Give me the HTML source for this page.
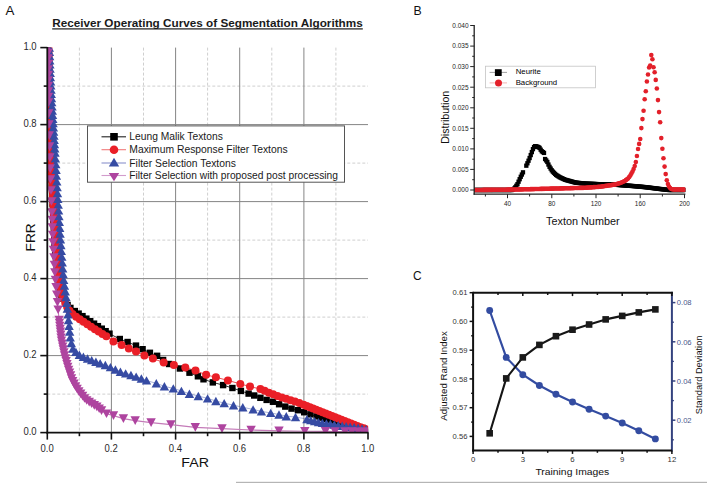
<!DOCTYPE html>
<html><head><meta charset="utf-8"><title>Segmentation figure</title>
<style>
html,body{margin:0;padding:0;background:#fff;}
body{width:707px;height:483px;overflow:hidden;}
svg{display:block;font-family:"Liberation Sans", sans-serif;}
</style></head><body>
<svg width="707" height="483" viewBox="0 0 707 483">
<rect x="0" y="0" width="707" height="483" fill="#fff"/>

<text x="5.6" y="14.9" font-size="13.3" fill="#111">A</text>
<text x="52.2" y="26.6" font-size="10.3" font-weight="bold" fill="#1a1a1a" textLength="310.5" lengthAdjust="spacingAndGlyphs">Receiver Operating Curves of Segmentation Algorithms</text>
<rect x="52.2" y="28.3" width="310.6" height="1.2" fill="#1a1a1a"/>
<line x1="79.4" y1="47.6" x2="79.4" y2="432.6" stroke="#cfcfcf" stroke-width="1" stroke-dasharray="3,2"/>
<line x1="47.3" y1="394.1" x2="368.0" y2="394.1" stroke="#cfcfcf" stroke-width="1" stroke-dasharray="3,2"/>
<line x1="143.5" y1="47.6" x2="143.5" y2="432.6" stroke="#cfcfcf" stroke-width="1" stroke-dasharray="3,2"/>
<line x1="47.3" y1="317.1" x2="368.0" y2="317.1" stroke="#cfcfcf" stroke-width="1" stroke-dasharray="3,2"/>
<line x1="207.6" y1="47.6" x2="207.6" y2="432.6" stroke="#cfcfcf" stroke-width="1" stroke-dasharray="3,2"/>
<line x1="47.3" y1="240.1" x2="368.0" y2="240.1" stroke="#cfcfcf" stroke-width="1" stroke-dasharray="3,2"/>
<line x1="271.8" y1="47.6" x2="271.8" y2="432.6" stroke="#cfcfcf" stroke-width="1" stroke-dasharray="3,2"/>
<line x1="47.3" y1="163.1" x2="368.0" y2="163.1" stroke="#cfcfcf" stroke-width="1" stroke-dasharray="3,2"/>
<line x1="335.9" y1="47.6" x2="335.9" y2="432.6" stroke="#cfcfcf" stroke-width="1" stroke-dasharray="3,2"/>
<line x1="47.3" y1="86.1" x2="368.0" y2="86.1" stroke="#cfcfcf" stroke-width="1" stroke-dasharray="3,2"/>
<line x1="111.4" y1="47.6" x2="111.4" y2="432.6" stroke="#858585" stroke-width="1"/>
<line x1="47.3" y1="355.6" x2="368.0" y2="355.6" stroke="#858585" stroke-width="1"/>
<line x1="175.6" y1="47.6" x2="175.6" y2="432.6" stroke="#858585" stroke-width="1"/>
<line x1="47.3" y1="278.6" x2="368.0" y2="278.6" stroke="#858585" stroke-width="1"/>
<line x1="239.7" y1="47.6" x2="239.7" y2="432.6" stroke="#858585" stroke-width="1"/>
<line x1="47.3" y1="201.6" x2="368.0" y2="201.6" stroke="#858585" stroke-width="1"/>
<line x1="303.9" y1="47.6" x2="303.9" y2="432.6" stroke="#858585" stroke-width="1"/>
<line x1="47.3" y1="124.6" x2="368.0" y2="124.6" stroke="#858585" stroke-width="1"/>
<defs><clipPath id="pa"><rect x="47.3" y="47.6" width="320.8" height="385"/></clipPath></defs>
<g clip-path="url(#pa)">
<polyline points="48.00,47.60 49.00,100.00 50.50,150.00 52.50,200.00 55.00,250.00 58.00,280.00 62.00,297.00 66.50,304.00 71.00,308.50 80.00,314.50 90.00,321.00 100.00,327.50 110.00,334.00 119.80,339.00 127.60,342.00 136.00,345.60 142.60,349.20 149.90,352.80 157.10,355.80 163.10,360.00 169.10,364.00 179.90,368.50 189.50,372.70 197.90,376.30 203.50,379.30 212.80,382.40 223.10,385.10 232.40,388.00 240.90,390.90 248.60,393.60 254.20,395.50 263.50,399.00 272.80,401.70 279.00,404.20 284.10,406.20 290.30,408.30 300.70,410.90 305.90,412.90 314.10,415.50 323.40,418.50 335.00,421.00 350.00,425.00 368.00,430.50" fill="none" stroke="#000" stroke-width="0.8"/>
<polyline points="48.50,47.60 49.50,100.00 51.00,150.00 53.00,200.00 55.50,240.00 58.50,275.00 62.00,295.00 66.50,306.00 71.00,313.00 80.00,319.50 90.00,326.00 100.00,332.50 110.00,338.50 113.40,341.50 121.60,345.00 128.80,348.60 136.00,351.60 144.40,355.50 152.90,358.60 163.70,362.50 173.90,365.10 185.30,367.50 195.50,370.60 206.10,374.80 215.90,377.30 227.90,380.40 240.30,383.90 250.00,386.60 260.40,389.00 270.00,393.20 282.10,397.60 300.00,403.20 320.00,411.30 340.00,419.20 360.00,427.00 370.00,430.50" fill="none" stroke="#ea1f27" stroke-width="0.8"/>
<polyline points="49.30,47.60 50.50,80.00 51.60,100.00 53.20,124.50 55.50,160.00 58.00,201.50 60.50,240.00 63.50,278.50 66.50,300.00 69.00,325.00 70.50,340.00 73.00,349.00 78.00,354.00 85.00,357.50 95.00,361.50 102.00,363.80 108.00,366.00 113.50,368.50 119.70,371.50 126.00,373.50 134.20,375.90 141.00,378.30 148.70,381.20 156.30,383.30 164.40,386.30 173.30,388.40 181.40,390.90 189.40,393.80 198.30,396.00 207.60,398.40 215.90,401.00 224.20,403.10 233.50,405.20 242.80,407.30 253.10,409.40 261.40,411.40 270.70,412.90 279.00,414.50 286.30,416.20 295.50,417.00 306.90,419.10 320.00,422.50 340.00,425.50 360.00,428.00 370.00,430.00" fill="none" stroke="#364ba3" stroke-width="0.6" stroke-opacity="0.7"/>
<polyline points="48.00,47.60 48.30,90.00 48.90,124.50 50.50,180.00 51.50,202.00 52.80,240.00 55.20,278.00 58.80,317.00 61.30,340.00 64.50,355.50 68.00,368.00 72.00,380.00 76.00,387.50 79.80,392.90 85.70,399.80 91.70,403.80 96.60,406.70 101.60,410.70 106.50,413.70 113.50,415.60 123.40,418.60 135.20,420.60 151.10,422.60 170.90,424.60 195.30,427.40 222.00,428.60 251.10,430.00 279.00,430.90 304.80,431.20 325.50,431.40 335.00,431.50 345.00,431.60 352.00,431.60 358.00,431.70 363.00,431.70 367.50,431.80" fill="none" stroke="#c47ab8" stroke-width="1.1"/>
<rect x="44.80" y="44.40" width="6.4" height="6.4" fill="#000"/>
<rect x="44.88" y="48.40" width="6.4" height="6.4" fill="#000"/>
<rect x="44.95" y="52.40" width="6.4" height="6.4" fill="#000"/>
<rect x="45.03" y="56.40" width="6.4" height="6.4" fill="#000"/>
<rect x="45.11" y="60.40" width="6.4" height="6.4" fill="#000"/>
<rect x="45.18" y="64.40" width="6.4" height="6.4" fill="#000"/>
<rect x="45.26" y="68.40" width="6.4" height="6.4" fill="#000"/>
<rect x="45.33" y="72.39" width="6.4" height="6.4" fill="#000"/>
<rect x="45.41" y="76.39" width="6.4" height="6.4" fill="#000"/>
<rect x="45.49" y="80.39" width="6.4" height="6.4" fill="#000"/>
<rect x="45.56" y="84.39" width="6.4" height="6.4" fill="#000"/>
<rect x="45.64" y="88.39" width="6.4" height="6.4" fill="#000"/>
<rect x="45.72" y="92.39" width="6.4" height="6.4" fill="#000"/>
<rect x="45.79" y="96.39" width="6.4" height="6.4" fill="#000"/>
<rect x="45.91" y="100.39" width="6.4" height="6.4" fill="#000"/>
<rect x="46.03" y="104.39" width="6.4" height="6.4" fill="#000"/>
<rect x="46.15" y="108.39" width="6.4" height="6.4" fill="#000"/>
<rect x="46.27" y="112.38" width="6.4" height="6.4" fill="#000"/>
<rect x="46.39" y="116.38" width="6.4" height="6.4" fill="#000"/>
<rect x="46.51" y="120.38" width="6.4" height="6.4" fill="#000"/>
<rect x="46.63" y="124.38" width="6.4" height="6.4" fill="#000"/>
<rect x="46.75" y="128.38" width="6.4" height="6.4" fill="#000"/>
<rect x="46.87" y="132.37" width="6.4" height="6.4" fill="#000"/>
<rect x="46.99" y="136.37" width="6.4" height="6.4" fill="#000"/>
<rect x="47.11" y="140.37" width="6.4" height="6.4" fill="#000"/>
<rect x="47.23" y="144.37" width="6.4" height="6.4" fill="#000"/>
<rect x="47.36" y="148.37" width="6.4" height="6.4" fill="#000"/>
<rect x="47.52" y="152.36" width="6.4" height="6.4" fill="#000"/>
<rect x="47.68" y="156.36" width="6.4" height="6.4" fill="#000"/>
<rect x="47.84" y="160.36" width="6.4" height="6.4" fill="#000"/>
<rect x="48.00" y="164.35" width="6.4" height="6.4" fill="#000"/>
<rect x="48.16" y="168.35" width="6.4" height="6.4" fill="#000"/>
<rect x="48.32" y="172.35" width="6.4" height="6.4" fill="#000"/>
<rect x="48.48" y="176.34" width="6.4" height="6.4" fill="#000"/>
<rect x="48.64" y="180.34" width="6.4" height="6.4" fill="#000"/>
<rect x="48.80" y="184.34" width="6.4" height="6.4" fill="#000"/>
<rect x="48.96" y="188.33" width="6.4" height="6.4" fill="#000"/>
<rect x="49.12" y="192.33" width="6.4" height="6.4" fill="#000"/>
<rect x="49.28" y="196.33" width="6.4" height="6.4" fill="#000"/>
<rect x="49.48" y="200.32" width="6.4" height="6.4" fill="#000"/>
<rect x="49.68" y="204.32" width="6.4" height="6.4" fill="#000"/>
<rect x="49.88" y="208.31" width="6.4" height="6.4" fill="#000"/>
<rect x="50.08" y="212.31" width="6.4" height="6.4" fill="#000"/>
<rect x="50.28" y="216.30" width="6.4" height="6.4" fill="#000"/>
<rect x="50.47" y="220.30" width="6.4" height="6.4" fill="#000"/>
<rect x="50.67" y="224.29" width="6.4" height="6.4" fill="#000"/>
<rect x="50.87" y="228.29" width="6.4" height="6.4" fill="#000"/>
<rect x="51.07" y="232.28" width="6.4" height="6.4" fill="#000"/>
<rect x="51.27" y="236.28" width="6.4" height="6.4" fill="#000"/>
<rect x="51.47" y="240.27" width="6.4" height="6.4" fill="#000"/>
<rect x="51.67" y="244.27" width="6.4" height="6.4" fill="#000"/>
<rect x="51.95" y="248.26" width="6.4" height="6.4" fill="#000"/>
<rect x="52.34" y="252.24" width="6.4" height="6.4" fill="#000"/>
<rect x="52.74" y="256.22" width="6.4" height="6.4" fill="#000"/>
<rect x="53.14" y="260.20" width="6.4" height="6.4" fill="#000"/>
<rect x="53.54" y="264.18" width="6.4" height="6.4" fill="#000"/>
<rect x="53.94" y="268.16" width="6.4" height="6.4" fill="#000"/>
<rect x="54.33" y="272.14" width="6.4" height="6.4" fill="#000"/>
<rect x="54.73" y="276.12" width="6.4" height="6.4" fill="#000"/>
<rect x="55.56" y="280.03" width="6.4" height="6.4" fill="#000"/>
<rect x="56.48" y="283.92" width="6.4" height="6.4" fill="#000"/>
<rect x="57.39" y="287.82" width="6.4" height="6.4" fill="#000"/>
<rect x="58.31" y="291.71" width="6.4" height="6.4" fill="#000"/>
<rect x="59.80" y="295.36" width="6.4" height="6.4" fill="#000"/>
<rect x="61.96" y="298.72" width="6.4" height="6.4" fill="#000"/>
<rect x="64.38" y="301.88" width="6.4" height="6.4" fill="#000"/>
<rect x="67.21" y="304.71" width="6.4" height="6.4" fill="#000"/>
<rect x="71.63" y="307.85" width="6.4" height="6.4" fill="#000"/>
<rect x="75.45" y="310.40" width="6.4" height="6.4" fill="#000"/>
<rect x="79.30" y="312.93" width="6.4" height="6.4" fill="#000"/>
<rect x="83.16" y="315.43" width="6.4" height="6.4" fill="#000"/>
<rect x="87.02" y="317.94" width="6.4" height="6.4" fill="#000"/>
<rect x="90.87" y="320.45" width="6.4" height="6.4" fill="#000"/>
<rect x="94.73" y="322.95" width="6.4" height="6.4" fill="#000"/>
<rect x="98.59" y="325.46" width="6.4" height="6.4" fill="#000"/>
<rect x="102.44" y="327.97" width="6.4" height="6.4" fill="#000"/>
<rect x="106.30" y="330.47" width="6.4" height="6.4" fill="#000"/>
<rect x="116.60" y="335.80" width="6.4" height="6.4" fill="#000"/>
<rect x="124.40" y="338.80" width="6.4" height="6.4" fill="#000"/>
<rect x="132.80" y="342.40" width="6.4" height="6.4" fill="#000"/>
<rect x="139.40" y="346.00" width="6.4" height="6.4" fill="#000"/>
<rect x="146.70" y="349.60" width="6.4" height="6.4" fill="#000"/>
<rect x="153.90" y="352.60" width="6.4" height="6.4" fill="#000"/>
<rect x="159.90" y="356.80" width="6.4" height="6.4" fill="#000"/>
<rect x="165.90" y="360.80" width="6.4" height="6.4" fill="#000"/>
<rect x="176.70" y="365.30" width="6.4" height="6.4" fill="#000"/>
<rect x="186.30" y="369.50" width="6.4" height="6.4" fill="#000"/>
<rect x="194.70" y="373.10" width="6.4" height="6.4" fill="#000"/>
<rect x="200.30" y="376.10" width="6.4" height="6.4" fill="#000"/>
<rect x="209.60" y="379.20" width="6.4" height="6.4" fill="#000"/>
<rect x="219.90" y="381.90" width="6.4" height="6.4" fill="#000"/>
<rect x="229.20" y="384.80" width="6.4" height="6.4" fill="#000"/>
<rect x="237.70" y="387.70" width="6.4" height="6.4" fill="#000"/>
<rect x="245.40" y="390.40" width="6.4" height="6.4" fill="#000"/>
<rect x="251.00" y="392.30" width="6.4" height="6.4" fill="#000"/>
<rect x="257.18" y="394.62" width="6.4" height="6.4" fill="#000"/>
<rect x="263.43" y="396.71" width="6.4" height="6.4" fill="#000"/>
<rect x="269.77" y="398.57" width="6.4" height="6.4" fill="#000"/>
<rect x="275.89" y="401.03" width="6.4" height="6.4" fill="#000"/>
<rect x="282.05" y="403.39" width="6.4" height="6.4" fill="#000"/>
<rect x="288.33" y="405.41" width="6.4" height="6.4" fill="#000"/>
<rect x="294.74" y="407.01" width="6.4" height="6.4" fill="#000"/>
<rect x="301.00" y="409.05" width="6.4" height="6.4" fill="#000"/>
<rect x="307.26" y="411.14" width="6.4" height="6.4" fill="#000"/>
<rect x="313.54" y="413.15" width="6.4" height="6.4" fill="#000"/>
<rect x="317.54" y="414.44" width="6.4" height="6.4" fill="#000"/>
<rect x="321.57" y="415.60" width="6.4" height="6.4" fill="#000"/>
<rect x="325.68" y="416.48" width="6.4" height="6.4" fill="#000"/>
<rect x="329.78" y="417.37" width="6.4" height="6.4" fill="#000"/>
<rect x="333.87" y="418.35" width="6.4" height="6.4" fill="#000"/>
<rect x="337.92" y="419.43" width="6.4" height="6.4" fill="#000"/>
<rect x="341.98" y="420.52" width="6.4" height="6.4" fill="#000"/>
<rect x="346.04" y="421.60" width="6.4" height="6.4" fill="#000"/>
<rect x="350.06" y="422.80" width="6.4" height="6.4" fill="#000"/>
<rect x="354.08" y="424.02" width="6.4" height="6.4" fill="#000"/>
<rect x="358.10" y="425.25" width="6.4" height="6.4" fill="#000"/>
<rect x="362.11" y="426.48" width="6.4" height="6.4" fill="#000"/>
<circle cx="48.50" cy="47.60" r="4.0" fill="#ea1f27"/>
<circle cx="48.59" cy="52.10" r="4.0" fill="#ea1f27"/>
<circle cx="48.67" cy="56.60" r="4.0" fill="#ea1f27"/>
<circle cx="48.76" cy="61.10" r="4.0" fill="#ea1f27"/>
<circle cx="48.84" cy="65.60" r="4.0" fill="#ea1f27"/>
<circle cx="48.93" cy="70.10" r="4.0" fill="#ea1f27"/>
<circle cx="49.02" cy="74.60" r="4.0" fill="#ea1f27"/>
<circle cx="49.10" cy="79.09" r="4.0" fill="#ea1f27"/>
<circle cx="49.19" cy="83.59" r="4.0" fill="#ea1f27"/>
<circle cx="49.27" cy="88.09" r="4.0" fill="#ea1f27"/>
<circle cx="49.36" cy="92.59" r="4.0" fill="#ea1f27"/>
<circle cx="49.44" cy="97.09" r="4.0" fill="#ea1f27"/>
<circle cx="49.55" cy="101.59" r="4.0" fill="#ea1f27"/>
<circle cx="49.68" cy="106.09" r="4.0" fill="#ea1f27"/>
<circle cx="49.82" cy="110.59" r="4.0" fill="#ea1f27"/>
<circle cx="49.95" cy="115.08" r="4.0" fill="#ea1f27"/>
<circle cx="50.09" cy="119.58" r="4.0" fill="#ea1f27"/>
<circle cx="50.22" cy="124.08" r="4.0" fill="#ea1f27"/>
<circle cx="50.36" cy="128.58" r="4.0" fill="#ea1f27"/>
<circle cx="50.49" cy="133.08" r="4.0" fill="#ea1f27"/>
<circle cx="50.63" cy="137.57" r="4.0" fill="#ea1f27"/>
<circle cx="50.76" cy="142.07" r="4.0" fill="#ea1f27"/>
<circle cx="50.90" cy="146.57" r="4.0" fill="#ea1f27"/>
<circle cx="51.04" cy="151.07" r="4.0" fill="#ea1f27"/>
<circle cx="51.22" cy="155.56" r="4.0" fill="#ea1f27"/>
<circle cx="51.40" cy="160.06" r="4.0" fill="#ea1f27"/>
<circle cx="51.58" cy="164.56" r="4.0" fill="#ea1f27"/>
<circle cx="51.76" cy="169.05" r="4.0" fill="#ea1f27"/>
<circle cx="51.94" cy="173.55" r="4.0" fill="#ea1f27"/>
<circle cx="52.12" cy="178.05" r="4.0" fill="#ea1f27"/>
<circle cx="52.30" cy="182.54" r="4.0" fill="#ea1f27"/>
<circle cx="52.48" cy="187.04" r="4.0" fill="#ea1f27"/>
<circle cx="52.66" cy="191.53" r="4.0" fill="#ea1f27"/>
<circle cx="52.84" cy="196.03" r="4.0" fill="#ea1f27"/>
<circle cx="53.03" cy="200.53" r="4.0" fill="#ea1f27"/>
<circle cx="53.31" cy="205.02" r="4.0" fill="#ea1f27"/>
<circle cx="53.59" cy="209.51" r="4.0" fill="#ea1f27"/>
<circle cx="53.88" cy="214.00" r="4.0" fill="#ea1f27"/>
<circle cx="54.16" cy="218.49" r="4.0" fill="#ea1f27"/>
<circle cx="54.44" cy="222.98" r="4.0" fill="#ea1f27"/>
<circle cx="54.72" cy="227.47" r="4.0" fill="#ea1f27"/>
<circle cx="55.00" cy="231.97" r="4.0" fill="#ea1f27"/>
<circle cx="55.28" cy="236.46" r="4.0" fill="#ea1f27"/>
<circle cx="55.58" cy="240.95" r="4.0" fill="#ea1f27"/>
<circle cx="55.97" cy="245.43" r="4.0" fill="#ea1f27"/>
<circle cx="56.35" cy="249.91" r="4.0" fill="#ea1f27"/>
<circle cx="56.73" cy="254.40" r="4.0" fill="#ea1f27"/>
<circle cx="57.12" cy="258.88" r="4.0" fill="#ea1f27"/>
<circle cx="57.50" cy="263.36" r="4.0" fill="#ea1f27"/>
<circle cx="57.89" cy="267.85" r="4.0" fill="#ea1f27"/>
<circle cx="58.27" cy="272.33" r="4.0" fill="#ea1f27"/>
<circle cx="58.81" cy="276.79" r="4.0" fill="#ea1f27"/>
<circle cx="59.59" cy="281.23" r="4.0" fill="#ea1f27"/>
<circle cx="60.37" cy="285.66" r="4.0" fill="#ea1f27"/>
<circle cx="61.14" cy="290.09" r="4.0" fill="#ea1f27"/>
<circle cx="61.92" cy="294.52" r="4.0" fill="#ea1f27"/>
<circle cx="63.52" cy="298.72" r="4.0" fill="#ea1f27"/>
<circle cx="65.23" cy="302.88" r="4.0" fill="#ea1f27"/>
<circle cx="67.11" cy="306.95" r="4.0" fill="#ea1f27"/>
<circle cx="69.55" cy="310.74" r="4.0" fill="#ea1f27"/>
<circle cx="72.47" cy="314.06" r="4.0" fill="#ea1f27"/>
<circle cx="76.12" cy="316.70" r="4.0" fill="#ea1f27"/>
<circle cx="79.76" cy="319.33" r="4.0" fill="#ea1f27"/>
<circle cx="83.53" cy="321.79" r="4.0" fill="#ea1f27"/>
<circle cx="87.30" cy="324.25" r="4.0" fill="#ea1f27"/>
<circle cx="91.08" cy="326.70" r="4.0" fill="#ea1f27"/>
<circle cx="94.85" cy="329.15" r="4.0" fill="#ea1f27"/>
<circle cx="98.62" cy="331.60" r="4.0" fill="#ea1f27"/>
<circle cx="102.45" cy="333.97" r="4.0" fill="#ea1f27"/>
<circle cx="106.31" cy="336.28" r="4.0" fill="#ea1f27"/>
<circle cx="113.40" cy="341.50" r="4.0" fill="#ea1f27"/>
<circle cx="121.60" cy="345.00" r="4.0" fill="#ea1f27"/>
<circle cx="128.80" cy="348.60" r="4.0" fill="#ea1f27"/>
<circle cx="136.00" cy="351.60" r="4.0" fill="#ea1f27"/>
<circle cx="144.40" cy="355.50" r="4.0" fill="#ea1f27"/>
<circle cx="152.90" cy="358.60" r="4.0" fill="#ea1f27"/>
<circle cx="163.70" cy="362.50" r="4.0" fill="#ea1f27"/>
<circle cx="173.90" cy="365.10" r="4.0" fill="#ea1f27"/>
<circle cx="185.30" cy="367.50" r="4.0" fill="#ea1f27"/>
<circle cx="195.50" cy="370.60" r="4.0" fill="#ea1f27"/>
<circle cx="206.10" cy="374.80" r="4.0" fill="#ea1f27"/>
<circle cx="215.90" cy="377.30" r="4.0" fill="#ea1f27"/>
<circle cx="227.90" cy="380.40" r="4.0" fill="#ea1f27"/>
<circle cx="240.30" cy="383.90" r="4.0" fill="#ea1f27"/>
<circle cx="250.00" cy="386.60" r="4.0" fill="#ea1f27"/>
<circle cx="260.40" cy="389.00" r="4.0" fill="#ea1f27"/>
<circle cx="264.61" cy="390.84" r="4.0" fill="#ea1f27"/>
<circle cx="268.83" cy="392.69" r="4.0" fill="#ea1f27"/>
<circle cx="273.12" cy="394.34" r="4.0" fill="#ea1f27"/>
<circle cx="277.44" cy="395.91" r="4.0" fill="#ea1f27"/>
<circle cx="281.77" cy="397.48" r="4.0" fill="#ea1f27"/>
<circle cx="286.15" cy="398.87" r="4.0" fill="#ea1f27"/>
<circle cx="290.54" cy="400.24" r="4.0" fill="#ea1f27"/>
<circle cx="294.93" cy="401.61" r="4.0" fill="#ea1f27"/>
<circle cx="299.32" cy="402.99" r="4.0" fill="#ea1f27"/>
<circle cx="303.61" cy="404.66" r="4.0" fill="#ea1f27"/>
<circle cx="306.76" cy="405.94" r="4.0" fill="#ea1f27"/>
<circle cx="309.91" cy="407.21" r="4.0" fill="#ea1f27"/>
<circle cx="313.06" cy="408.49" r="4.0" fill="#ea1f27"/>
<circle cx="316.21" cy="409.77" r="4.0" fill="#ea1f27"/>
<circle cx="319.36" cy="411.04" r="4.0" fill="#ea1f27"/>
<circle cx="322.52" cy="412.30" r="4.0" fill="#ea1f27"/>
<circle cx="325.69" cy="413.55" r="4.0" fill="#ea1f27"/>
<circle cx="328.85" cy="414.79" r="4.0" fill="#ea1f27"/>
<circle cx="332.01" cy="416.04" r="4.0" fill="#ea1f27"/>
<circle cx="335.17" cy="417.29" r="4.0" fill="#ea1f27"/>
<circle cx="338.33" cy="418.54" r="4.0" fill="#ea1f27"/>
<circle cx="341.50" cy="419.78" r="4.0" fill="#ea1f27"/>
<circle cx="344.67" cy="421.02" r="4.0" fill="#ea1f27"/>
<circle cx="347.83" cy="422.26" r="4.0" fill="#ea1f27"/>
<circle cx="351.00" cy="423.49" r="4.0" fill="#ea1f27"/>
<circle cx="354.17" cy="424.73" r="4.0" fill="#ea1f27"/>
<circle cx="357.34" cy="425.96" r="4.0" fill="#ea1f27"/>
<circle cx="360.51" cy="427.18" r="4.0" fill="#ea1f27"/>
<circle cx="363.72" cy="428.30" r="4.0" fill="#ea1f27"/>
<circle cx="366.93" cy="429.43" r="4.0" fill="#ea1f27"/>
<path d="M44.60,51.80L54.00,51.80L49.30,43.40Z" fill="#364ba3"/>
<path d="M44.76,56.00L54.16,56.00L49.46,47.60Z" fill="#364ba3"/>
<path d="M44.91,60.19L54.31,60.19L49.61,51.79Z" fill="#364ba3"/>
<path d="M45.07,64.39L54.47,64.39L49.77,55.99Z" fill="#364ba3"/>
<path d="M45.22,68.59L54.62,68.59L49.92,60.19Z" fill="#364ba3"/>
<path d="M45.38,72.79L54.78,72.79L50.08,64.39Z" fill="#364ba3"/>
<path d="M45.53,76.98L54.93,76.98L50.23,68.58Z" fill="#364ba3"/>
<path d="M45.69,81.18L55.09,81.18L50.39,72.78Z" fill="#364ba3"/>
<path d="M45.86,85.38L55.26,85.38L50.56,76.98Z" fill="#364ba3"/>
<path d="M46.10,89.57L55.50,89.57L50.80,81.17Z" fill="#364ba3"/>
<path d="M46.33,93.76L55.73,93.76L51.03,85.36Z" fill="#364ba3"/>
<path d="M46.56,97.96L55.96,97.96L51.26,89.56Z" fill="#364ba3"/>
<path d="M46.79,102.15L56.19,102.15L51.49,93.75Z" fill="#364ba3"/>
<path d="M47.04,106.34L56.44,106.34L51.74,97.94Z" fill="#364ba3"/>
<path d="M47.31,110.53L56.71,110.53L52.01,102.13Z" fill="#364ba3"/>
<path d="M47.59,114.73L56.99,114.73L52.29,106.33Z" fill="#364ba3"/>
<path d="M47.86,118.92L57.26,118.92L52.56,110.52Z" fill="#364ba3"/>
<path d="M48.13,123.11L57.53,123.11L52.83,114.71Z" fill="#364ba3"/>
<path d="M48.41,127.30L57.81,127.30L53.11,118.90Z" fill="#364ba3"/>
<path d="M48.68,131.49L58.08,131.49L53.38,123.09Z" fill="#364ba3"/>
<path d="M48.95,135.68L58.35,135.68L53.65,127.28Z" fill="#364ba3"/>
<path d="M49.22,139.87L58.62,139.87L53.92,131.47Z" fill="#364ba3"/>
<path d="M49.50,144.06L58.90,144.06L54.20,135.66Z" fill="#364ba3"/>
<path d="M49.77,148.25L59.17,148.25L54.47,139.85Z" fill="#364ba3"/>
<path d="M50.04,152.45L59.44,152.45L54.74,144.05Z" fill="#364ba3"/>
<path d="M50.31,156.64L59.71,156.64L55.01,148.24Z" fill="#364ba3"/>
<path d="M50.68,162.42L60.08,162.42L55.38,154.02Z" fill="#364ba3"/>
<path d="M51.04,168.21L60.44,168.21L55.74,159.81Z" fill="#364ba3"/>
<path d="M51.39,174.00L60.79,174.00L56.09,165.60Z" fill="#364ba3"/>
<path d="M51.74,179.79L61.14,179.79L56.44,171.39Z" fill="#364ba3"/>
<path d="M52.09,185.58L61.49,185.58L56.79,177.18Z" fill="#364ba3"/>
<path d="M52.44,191.37L61.84,191.37L57.14,182.97Z" fill="#364ba3"/>
<path d="M52.79,197.16L62.19,197.16L57.49,188.76Z" fill="#364ba3"/>
<path d="M53.13,202.95L62.53,202.95L57.83,194.55Z" fill="#364ba3"/>
<path d="M53.50,208.74L62.90,208.74L58.20,200.34Z" fill="#364ba3"/>
<path d="M53.87,214.53L63.27,214.53L58.57,206.13Z" fill="#364ba3"/>
<path d="M54.25,220.31L63.65,220.31L58.95,211.91Z" fill="#364ba3"/>
<path d="M54.62,226.10L64.02,226.10L59.32,217.70Z" fill="#364ba3"/>
<path d="M55.00,231.89L64.40,231.89L59.70,223.49Z" fill="#364ba3"/>
<path d="M55.38,237.68L64.78,237.68L60.08,229.28Z" fill="#364ba3"/>
<path d="M55.75,243.47L65.15,243.47L60.45,235.07Z" fill="#364ba3"/>
<path d="M56.19,249.25L65.59,249.25L60.89,240.85Z" fill="#364ba3"/>
<path d="M56.64,255.03L66.04,255.03L61.34,246.63Z" fill="#364ba3"/>
<path d="M57.09,260.81L66.49,260.81L61.79,252.41Z" fill="#364ba3"/>
<path d="M57.55,266.60L66.95,266.60L62.25,258.20Z" fill="#364ba3"/>
<path d="M58.00,272.38L67.40,272.38L62.70,263.98Z" fill="#364ba3"/>
<path d="M58.45,278.16L67.85,278.16L63.15,269.76Z" fill="#364ba3"/>
<path d="M58.97,283.94L68.37,283.94L63.67,275.54Z" fill="#364ba3"/>
<path d="M59.77,289.68L69.17,289.68L64.47,281.28Z" fill="#364ba3"/>
<path d="M60.58,295.42L69.98,295.42L65.28,287.02Z" fill="#364ba3"/>
<path d="M61.38,301.17L70.78,301.17L66.08,292.77Z" fill="#364ba3"/>
<path d="M62.07,306.93L71.47,306.93L66.77,298.53Z" fill="#364ba3"/>
<path d="M62.65,312.70L72.05,312.70L67.35,304.30Z" fill="#364ba3"/>
<path d="M63.23,318.47L72.63,318.47L67.93,310.07Z" fill="#364ba3"/>
<path d="M63.80,324.24L73.20,324.24L68.50,315.84Z" fill="#364ba3"/>
<path d="M64.38,330.01L73.78,330.01L69.08,321.61Z" fill="#364ba3"/>
<path d="M64.96,335.78L74.36,335.78L69.66,327.38Z" fill="#364ba3"/>
<path d="M65.54,341.55L74.94,341.55L70.24,333.15Z" fill="#364ba3"/>
<path d="M66.64,347.23L76.04,347.23L71.34,338.83Z" fill="#364ba3"/>
<path d="M68.19,352.81L77.59,352.81L72.89,344.41Z" fill="#364ba3"/>
<path d="M71.20,356.10L80.60,356.10L75.90,347.70Z" fill="#364ba3"/>
<path d="M74.67,358.88L84.07,358.88L79.37,350.48Z" fill="#364ba3"/>
<path d="M78.69,360.90L88.09,360.90L83.39,352.50Z" fill="#364ba3"/>
<path d="M82.81,362.70L92.21,362.70L87.51,354.30Z" fill="#364ba3"/>
<path d="M86.99,364.37L96.39,364.37L91.69,355.97Z" fill="#364ba3"/>
<path d="M91.19,365.99L100.59,365.99L95.89,357.59Z" fill="#364ba3"/>
<path d="M95.46,367.40L104.86,367.40L100.16,359.00Z" fill="#364ba3"/>
<path d="M100.65,369.23L110.05,369.23L105.35,360.83Z" fill="#364ba3"/>
<path d="M105.73,371.31L115.13,371.31L110.43,362.91Z" fill="#364ba3"/>
<path d="M110.72,373.63L120.12,373.63L115.42,365.23Z" fill="#364ba3"/>
<path d="M115.71,375.93L125.11,375.93L120.41,367.53Z" fill="#364ba3"/>
<path d="M120.95,377.59L130.35,377.59L125.65,369.19Z" fill="#364ba3"/>
<path d="M126.23,379.14L135.63,379.14L130.93,370.74Z" fill="#364ba3"/>
<path d="M131.47,380.80L140.87,380.80L136.17,372.40Z" fill="#364ba3"/>
<path d="M136.65,382.63L146.05,382.63L141.35,374.23Z" fill="#364ba3"/>
<path d="M141.80,384.57L151.20,384.57L146.50,376.17Z" fill="#364ba3"/>
<path d="M151.60,387.50L161.00,387.50L156.30,379.10Z" fill="#364ba3"/>
<path d="M159.70,390.50L169.10,390.50L164.40,382.10Z" fill="#364ba3"/>
<path d="M168.60,392.60L178.00,392.60L173.30,384.20Z" fill="#364ba3"/>
<path d="M176.70,395.10L186.10,395.10L181.40,386.70Z" fill="#364ba3"/>
<path d="M184.70,398.00L194.10,398.00L189.40,389.60Z" fill="#364ba3"/>
<path d="M193.60,400.20L203.00,400.20L198.30,391.80Z" fill="#364ba3"/>
<path d="M202.90,402.60L212.30,402.60L207.60,394.20Z" fill="#364ba3"/>
<path d="M211.20,405.20L220.60,405.20L215.90,396.80Z" fill="#364ba3"/>
<path d="M219.50,407.30L228.90,407.30L224.20,398.90Z" fill="#364ba3"/>
<path d="M228.80,409.40L238.20,409.40L233.50,401.00Z" fill="#364ba3"/>
<path d="M238.10,411.50L247.50,411.50L242.80,403.10Z" fill="#364ba3"/>
<path d="M248.40,413.60L257.80,413.60L253.10,405.20Z" fill="#364ba3"/>
<path d="M256.70,415.60L266.10,415.60L261.40,407.20Z" fill="#364ba3"/>
<path d="M266.00,417.10L275.40,417.10L270.70,408.70Z" fill="#364ba3"/>
<path d="M274.30,418.70L283.70,418.70L279.00,410.30Z" fill="#364ba3"/>
<path d="M281.60,420.40L291.00,420.40L286.30,412.00Z" fill="#364ba3"/>
<path d="M290.80,421.20L300.20,421.20L295.50,412.80Z" fill="#364ba3"/>
<path d="M302.20,423.30L311.60,423.30L306.90,414.90Z" fill="#364ba3"/>
<path d="M306.07,424.30L315.47,424.30L310.77,415.90Z" fill="#364ba3"/>
<path d="M309.94,425.31L319.34,425.31L314.64,416.91Z" fill="#364ba3"/>
<path d="M313.82,426.31L323.22,426.31L318.52,417.91Z" fill="#364ba3"/>
<path d="M317.74,427.07L327.14,427.07L322.44,418.67Z" fill="#364ba3"/>
<path d="M321.69,427.66L331.09,427.66L326.39,419.26Z" fill="#364ba3"/>
<path d="M325.65,428.25L335.05,428.25L330.35,419.85Z" fill="#364ba3"/>
<path d="M329.61,428.85L339.01,428.85L334.31,420.45Z" fill="#364ba3"/>
<path d="M333.56,429.44L342.96,429.44L338.26,421.04Z" fill="#364ba3"/>
<path d="M337.52,429.98L346.92,429.98L342.22,421.58Z" fill="#364ba3"/>
<path d="M341.49,430.47L350.89,430.47L346.19,422.07Z" fill="#364ba3"/>
<path d="M345.46,430.97L354.86,430.97L350.16,422.57Z" fill="#364ba3"/>
<path d="M349.43,431.47L358.83,431.47L354.13,423.07Z" fill="#364ba3"/>
<path d="M353.40,431.96L362.80,431.96L358.10,423.56Z" fill="#364ba3"/>
<path d="M357.35,432.61L366.75,432.61L362.05,424.21Z" fill="#364ba3"/>
<path d="M361.27,433.39L370.67,433.39L365.97,424.99Z" fill="#364ba3"/>
<path d="M365.19,434.18L374.59,434.18L369.89,425.78Z" fill="#364ba3"/>
<path d="M43.30,43.30L52.70,43.30L48.00,51.90Z" fill="#ae449f"/>
<path d="M43.34,48.80L52.74,48.80L48.04,57.40Z" fill="#ae449f"/>
<path d="M43.38,54.30L52.78,54.30L48.08,62.90Z" fill="#ae449f"/>
<path d="M43.42,59.80L52.82,59.80L48.12,68.40Z" fill="#ae449f"/>
<path d="M43.46,65.30L52.86,65.30L48.16,73.90Z" fill="#ae449f"/>
<path d="M43.49,70.80L52.89,70.80L48.19,79.40Z" fill="#ae449f"/>
<path d="M43.53,76.30L52.93,76.30L48.23,84.90Z" fill="#ae449f"/>
<path d="M43.57,81.80L52.97,81.80L48.27,90.40Z" fill="#ae449f"/>
<path d="M43.63,87.30L53.03,87.30L48.33,95.90Z" fill="#ae449f"/>
<path d="M43.72,92.80L53.12,92.80L48.42,101.40Z" fill="#ae449f"/>
<path d="M43.82,98.30L53.22,98.30L48.52,106.90Z" fill="#ae449f"/>
<path d="M44.01,109.30L53.41,109.30L48.71,117.90Z" fill="#ae449f"/>
<path d="M44.20,120.29L53.60,120.29L48.90,128.89Z" fill="#ae449f"/>
<path d="M44.52,131.29L53.92,131.29L49.22,139.89Z" fill="#ae449f"/>
<path d="M44.84,142.28L54.24,142.28L49.54,150.88Z" fill="#ae449f"/>
<path d="M45.15,153.28L54.55,153.28L49.85,161.88Z" fill="#ae449f"/>
<path d="M45.47,164.28L54.87,164.28L50.17,172.88Z" fill="#ae449f"/>
<path d="M45.79,175.27L55.19,175.27L50.49,183.87Z" fill="#ae449f"/>
<path d="M46.28,186.26L55.68,186.26L50.98,194.86Z" fill="#ae449f"/>
<path d="M46.78,197.25L56.18,197.25L51.48,205.85Z" fill="#ae449f"/>
<path d="M47.16,208.24L56.56,208.24L51.86,216.84Z" fill="#ae449f"/>
<path d="M47.42,215.74L56.82,215.74L52.12,224.34Z" fill="#ae449f"/>
<path d="M47.67,223.23L57.07,223.23L52.37,231.83Z" fill="#ae449f"/>
<path d="M47.93,230.73L57.33,230.73L52.63,239.33Z" fill="#ae449f"/>
<path d="M48.26,238.22L57.66,238.22L52.96,246.82Z" fill="#ae449f"/>
<path d="M48.73,245.71L58.13,245.71L53.43,254.31Z" fill="#ae449f"/>
<path d="M49.20,253.19L58.60,253.19L53.90,261.79Z" fill="#ae449f"/>
<path d="M49.68,260.68L59.08,260.68L54.38,269.28Z" fill="#ae449f"/>
<path d="M50.15,268.16L59.55,268.16L54.85,276.76Z" fill="#ae449f"/>
<path d="M50.68,275.64L60.08,275.64L55.38,284.24Z" fill="#ae449f"/>
<path d="M51.37,283.11L60.77,283.11L56.07,291.71Z" fill="#ae449f"/>
<path d="M52.06,290.58L61.46,290.58L56.76,299.18Z" fill="#ae449f"/>
<path d="M52.75,298.05L62.15,298.05L57.45,306.65Z" fill="#ae449f"/>
<path d="M53.44,305.51L62.84,305.51L58.14,314.11Z" fill="#ae449f"/>
<path d="M54.42,315.68L63.82,315.68L59.12,324.28Z" fill="#ae449f"/>
<path d="M54.75,318.66L64.15,318.66L59.45,327.26Z" fill="#ae449f"/>
<path d="M55.07,321.65L64.47,321.65L59.77,330.25Z" fill="#ae449f"/>
<path d="M55.40,324.63L64.80,324.63L60.10,333.23Z" fill="#ae449f"/>
<path d="M55.72,327.61L65.12,327.61L60.42,336.21Z" fill="#ae449f"/>
<path d="M56.05,330.59L65.45,330.59L60.75,339.19Z" fill="#ae449f"/>
<path d="M56.37,333.58L65.77,333.58L61.07,342.18Z" fill="#ae449f"/>
<path d="M56.77,336.55L66.17,336.55L61.47,345.15Z" fill="#ae449f"/>
<path d="M57.38,339.48L66.78,339.48L62.08,348.08Z" fill="#ae449f"/>
<path d="M57.99,342.42L67.39,342.42L62.69,351.02Z" fill="#ae449f"/>
<path d="M58.59,345.36L67.99,345.36L63.29,353.96Z" fill="#ae449f"/>
<path d="M59.20,348.30L68.60,348.30L63.90,356.90Z" fill="#ae449f"/>
<path d="M59.81,351.24L69.21,351.24L64.51,359.84Z" fill="#ae449f"/>
<path d="M60.62,354.13L70.02,354.13L65.32,362.73Z" fill="#ae449f"/>
<path d="M61.43,357.01L70.83,357.01L66.13,365.61Z" fill="#ae449f"/>
<path d="M62.24,359.90L71.64,359.90L66.94,368.50Z" fill="#ae449f"/>
<path d="M63.05,362.79L72.45,362.79L67.75,371.39Z" fill="#ae449f"/>
<path d="M63.95,365.65L73.35,365.65L68.65,374.25Z" fill="#ae449f"/>
<path d="M64.90,368.50L74.30,368.50L69.60,377.10Z" fill="#ae449f"/>
<path d="M65.85,371.34L75.25,371.34L70.55,379.94Z" fill="#ae449f"/>
<path d="M66.80,374.19L76.20,374.19L71.50,382.79Z" fill="#ae449f"/>
<path d="M67.96,376.94L77.36,376.94L72.66,385.54Z" fill="#ae449f"/>
<path d="M69.37,379.59L78.77,379.59L74.07,388.19Z" fill="#ae449f"/>
<path d="M70.79,382.24L80.19,382.24L75.49,390.84Z" fill="#ae449f"/>
<path d="M72.40,384.76L81.80,384.76L77.10,393.36Z" fill="#ae449f"/>
<path d="M74.12,387.21L83.52,387.21L78.82,395.81Z" fill="#ae449f"/>
<path d="M75.95,389.59L85.35,389.59L80.65,398.19Z" fill="#ae449f"/>
<path d="M77.90,391.87L87.30,391.87L82.60,400.47Z" fill="#ae449f"/>
<path d="M79.85,394.15L89.25,394.15L84.55,402.75Z" fill="#ae449f"/>
<path d="M82.02,396.18L91.42,396.18L86.72,404.78Z" fill="#ae449f"/>
<path d="M84.52,397.84L93.92,397.84L89.22,406.44Z" fill="#ae449f"/>
<path d="M87.01,399.51L96.41,399.51L91.71,408.11Z" fill="#ae449f"/>
<path d="M89.59,401.04L98.99,401.04L94.29,409.64Z" fill="#ae449f"/>
<path d="M92.15,402.60L101.55,402.60L96.85,411.20Z" fill="#ae449f"/>
<path d="M94.49,404.47L103.89,404.47L99.19,413.07Z" fill="#ae449f"/>
<path d="M96.84,406.35L106.24,406.35L101.54,414.95Z" fill="#ae449f"/>
<path d="M101.80,409.40L111.20,409.40L106.50,418.00Z" fill="#ae449f"/>
<path d="M108.80,411.30L118.20,411.30L113.50,419.90Z" fill="#ae449f"/>
<path d="M118.70,414.30L128.10,414.30L123.40,422.90Z" fill="#ae449f"/>
<path d="M130.50,416.30L139.90,416.30L135.20,424.90Z" fill="#ae449f"/>
<path d="M146.40,418.30L155.80,418.30L151.10,426.90Z" fill="#ae449f"/>
<path d="M166.20,420.30L175.60,420.30L170.90,428.90Z" fill="#ae449f"/>
<path d="M190.60,423.10L200.00,423.10L195.30,431.70Z" fill="#ae449f"/>
<path d="M217.30,424.30L226.70,424.30L222.00,432.90Z" fill="#ae449f"/>
<path d="M246.40,425.70L255.80,425.70L251.10,434.30Z" fill="#ae449f"/>
<path d="M274.30,426.60L283.70,426.60L279.00,435.20Z" fill="#ae449f"/>
<path d="M300.10,426.90L309.50,426.90L304.80,435.50Z" fill="#ae449f"/>
<path d="M320.80,427.10L330.20,427.10L325.50,435.70Z" fill="#ae449f"/>
<path d="M330.30,427.20L339.70,427.20L335.00,435.80Z" fill="#ae449f"/>
<path d="M340.30,427.30L349.70,427.30L345.00,435.90Z" fill="#ae449f"/>
<path d="M347.30,427.30L356.70,427.30L352.00,435.90Z" fill="#ae449f"/>
<path d="M353.30,427.40L362.70,427.40L358.00,436.00Z" fill="#ae449f"/>
<path d="M358.30,427.40L367.70,427.40L363.00,436.00Z" fill="#ae449f"/>
<path d="M362.80,427.50L372.20,427.50L367.50,436.10Z" fill="#ae449f"/>
</g>
<line x1="47.3" y1="47.1" x2="47.3" y2="433.6" stroke="#111" stroke-width="1.8"/>
<line x1="46.3" y1="432.6" x2="368.5" y2="432.6" stroke="#111" stroke-width="1.8"/>
<line x1="40.3" y1="432.6" x2="47.3" y2="432.6" stroke="#111" stroke-width="1.6"/>
<line x1="47.3" y1="432.6" x2="47.3" y2="439.6" stroke="#111" stroke-width="1.6"/>
<line x1="43.7" y1="394.1" x2="47.3" y2="394.1" stroke="#111" stroke-width="1.6"/>
<line x1="79.4" y1="432.6" x2="79.4" y2="436.2" stroke="#111" stroke-width="1.6"/>
<line x1="40.3" y1="355.6" x2="47.3" y2="355.6" stroke="#111" stroke-width="1.6"/>
<line x1="111.4" y1="432.6" x2="111.4" y2="439.6" stroke="#111" stroke-width="1.6"/>
<line x1="43.7" y1="317.1" x2="47.3" y2="317.1" stroke="#111" stroke-width="1.6"/>
<line x1="143.5" y1="432.6" x2="143.5" y2="436.2" stroke="#111" stroke-width="1.6"/>
<line x1="40.3" y1="278.6" x2="47.3" y2="278.6" stroke="#111" stroke-width="1.6"/>
<line x1="175.6" y1="432.6" x2="175.6" y2="439.6" stroke="#111" stroke-width="1.6"/>
<line x1="43.7" y1="240.1" x2="47.3" y2="240.1" stroke="#111" stroke-width="1.6"/>
<line x1="207.6" y1="432.6" x2="207.6" y2="436.2" stroke="#111" stroke-width="1.6"/>
<line x1="40.3" y1="201.6" x2="47.3" y2="201.6" stroke="#111" stroke-width="1.6"/>
<line x1="239.7" y1="432.6" x2="239.7" y2="439.6" stroke="#111" stroke-width="1.6"/>
<line x1="43.7" y1="163.1" x2="47.3" y2="163.1" stroke="#111" stroke-width="1.6"/>
<line x1="271.8" y1="432.6" x2="271.8" y2="436.2" stroke="#111" stroke-width="1.6"/>
<line x1="40.3" y1="124.6" x2="47.3" y2="124.6" stroke="#111" stroke-width="1.6"/>
<line x1="303.9" y1="432.6" x2="303.9" y2="439.6" stroke="#111" stroke-width="1.6"/>
<line x1="43.7" y1="86.1" x2="47.3" y2="86.1" stroke="#111" stroke-width="1.6"/>
<line x1="335.9" y1="432.6" x2="335.9" y2="436.2" stroke="#111" stroke-width="1.6"/>
<line x1="40.3" y1="47.6" x2="47.3" y2="47.6" stroke="#111" stroke-width="1.6"/>
<line x1="368.0" y1="432.6" x2="368.0" y2="439.6" stroke="#111" stroke-width="1.6"/>
<text x="36.6" y="434.9" font-size="10" fill="#2a2a2a" text-anchor="end" textLength="13.2" lengthAdjust="spacingAndGlyphs">0.0</text>
<text x="47.1" y="451.7" font-size="10" fill="#2a2a2a" text-anchor="middle" textLength="13.2" lengthAdjust="spacingAndGlyphs">0.0</text>
<text x="36.6" y="357.9" font-size="10" fill="#2a2a2a" text-anchor="end" textLength="13.2" lengthAdjust="spacingAndGlyphs">0.2</text>
<text x="111.2" y="451.7" font-size="10" fill="#2a2a2a" text-anchor="middle" textLength="13.2" lengthAdjust="spacingAndGlyphs">0.2</text>
<text x="36.6" y="280.9" font-size="10" fill="#2a2a2a" text-anchor="end" textLength="13.2" lengthAdjust="spacingAndGlyphs">0.4</text>
<text x="175.4" y="451.7" font-size="10" fill="#2a2a2a" text-anchor="middle" textLength="13.2" lengthAdjust="spacingAndGlyphs">0.4</text>
<text x="36.6" y="203.9" font-size="10" fill="#2a2a2a" text-anchor="end" textLength="13.2" lengthAdjust="spacingAndGlyphs">0.6</text>
<text x="239.5" y="451.7" font-size="10" fill="#2a2a2a" text-anchor="middle" textLength="13.2" lengthAdjust="spacingAndGlyphs">0.6</text>
<text x="36.6" y="126.9" font-size="10" fill="#2a2a2a" text-anchor="end" textLength="13.2" lengthAdjust="spacingAndGlyphs">0.8</text>
<text x="303.7" y="451.7" font-size="10" fill="#2a2a2a" text-anchor="middle" textLength="13.2" lengthAdjust="spacingAndGlyphs">0.8</text>
<text x="36.6" y="49.9" font-size="10" fill="#2a2a2a" text-anchor="end" textLength="13.2" lengthAdjust="spacingAndGlyphs">1.0</text>
<text x="367.8" y="451.7" font-size="10" fill="#2a2a2a" text-anchor="middle" textLength="13.2" lengthAdjust="spacingAndGlyphs">1.0</text>
<text x="195.1" y="466.8" font-size="13.2" fill="#111" text-anchor="middle" textLength="27.6" lengthAdjust="spacingAndGlyphs">FAR</text>
<text transform="translate(35.1,237.4) rotate(-90)" font-size="13.2" fill="#111" text-anchor="middle" textLength="28.2" lengthAdjust="spacingAndGlyphs">FRR</text>
<rect x="87.5" y="125.9" width="257" height="56.3" fill="#fff" stroke="#555" stroke-width="1"/>
<line x1="101.5" y1="136.8" x2="126" y2="136.8" stroke="#222" stroke-width="1.1"/>
<rect x="110.20" y="133.00" width="7.6" height="7.6" fill="#000"/>
<text x="129.3" y="140.4" font-size="10.1" fill="#1a1a1a" textLength="93.5" lengthAdjust="spacingAndGlyphs">Leung Malik Textons</text>
<line x1="101.5" y1="149.70000000000002" x2="126" y2="149.70000000000002" stroke="#f07a7a" stroke-width="1.1"/>
<circle cx="114.00" cy="149.70" r="4.3" fill="#ea1f27"/>
<text x="129.3" y="153.3" font-size="10.1" fill="#1a1a1a" textLength="158.3" lengthAdjust="spacingAndGlyphs">Maximum Response Filter Textons</text>
<line x1="101.5" y1="163.0" x2="126" y2="163.0" stroke="#8a93cc" stroke-width="1.1"/>
<path d="M108.80,166.50L119.20,166.50L114.00,157.70Z" fill="#364ba3"/>
<text x="129.3" y="166.6" font-size="10.1" fill="#1a1a1a" textLength="106.6" lengthAdjust="spacingAndGlyphs">Filter Selection Textons</text>
<line x1="101.5" y1="175.5" x2="126" y2="175.5" stroke="#d29ccc" stroke-width="1.1"/>
<path d="M108.80,172.90L119.20,172.90L114.00,181.30Z" fill="#ae449f"/>
<text x="129.3" y="179.1" font-size="10.1" fill="#1a1a1a" textLength="208.7" lengthAdjust="spacingAndGlyphs">Filter Selection with proposed post processing</text>
<text x="413.4" y="14.9" font-size="13.3" fill="#111" textLength="8.2" lengthAdjust="spacingAndGlyphs">B</text>
<defs><clipPath id="pb"><rect x="474.2" y="20" width="211.2" height="174.2"/></clipPath></defs>
<g clip-path="url(#pb)">
<rect x="472.16" y="187.85" width="4.3" height="4.3" fill="#000"/>
<rect x="473.27" y="187.85" width="4.3" height="4.3" fill="#000"/>
<rect x="474.38" y="187.85" width="4.3" height="4.3" fill="#000"/>
<rect x="475.48" y="187.85" width="4.3" height="4.3" fill="#000"/>
<rect x="476.59" y="187.85" width="4.3" height="4.3" fill="#000"/>
<rect x="477.69" y="187.85" width="4.3" height="4.3" fill="#000"/>
<rect x="478.80" y="187.85" width="4.3" height="4.3" fill="#000"/>
<rect x="479.91" y="187.85" width="4.3" height="4.3" fill="#000"/>
<rect x="481.01" y="187.85" width="4.3" height="4.3" fill="#000"/>
<rect x="482.12" y="187.85" width="4.3" height="4.3" fill="#000"/>
<rect x="483.23" y="187.85" width="4.3" height="4.3" fill="#000"/>
<rect x="484.33" y="187.85" width="4.3" height="4.3" fill="#000"/>
<rect x="485.44" y="187.85" width="4.3" height="4.3" fill="#000"/>
<rect x="486.54" y="187.85" width="4.3" height="4.3" fill="#000"/>
<rect x="487.65" y="187.85" width="4.3" height="4.3" fill="#000"/>
<rect x="488.76" y="187.85" width="4.3" height="4.3" fill="#000"/>
<rect x="489.86" y="187.85" width="4.3" height="4.3" fill="#000"/>
<rect x="490.97" y="187.85" width="4.3" height="4.3" fill="#000"/>
<rect x="492.08" y="187.85" width="4.3" height="4.3" fill="#000"/>
<rect x="493.18" y="187.85" width="4.3" height="4.3" fill="#000"/>
<rect x="494.29" y="187.85" width="4.3" height="4.3" fill="#000"/>
<rect x="495.39" y="187.85" width="4.3" height="4.3" fill="#000"/>
<rect x="496.50" y="187.85" width="4.3" height="4.3" fill="#000"/>
<rect x="497.61" y="187.85" width="4.3" height="4.3" fill="#000"/>
<rect x="498.71" y="187.85" width="4.3" height="4.3" fill="#000"/>
<rect x="499.82" y="187.85" width="4.3" height="4.3" fill="#000"/>
<rect x="500.93" y="187.85" width="4.3" height="4.3" fill="#000"/>
<rect x="502.03" y="187.85" width="4.3" height="4.3" fill="#000"/>
<rect x="503.14" y="187.85" width="4.3" height="4.3" fill="#000"/>
<rect x="504.24" y="187.85" width="4.3" height="4.3" fill="#000"/>
<rect x="505.35" y="187.85" width="4.3" height="4.3" fill="#000"/>
<rect x="506.46" y="187.85" width="4.3" height="4.3" fill="#000"/>
<rect x="507.56" y="187.85" width="4.3" height="4.3" fill="#000"/>
<rect x="508.67" y="187.85" width="4.3" height="4.3" fill="#000"/>
<rect x="509.78" y="187.85" width="4.3" height="4.3" fill="#000"/>
<rect x="510.88" y="187.40" width="4.3" height="4.3" fill="#000"/>
<rect x="511.99" y="186.50" width="4.3" height="4.3" fill="#000"/>
<rect x="513.09" y="185.25" width="4.3" height="4.3" fill="#000"/>
<rect x="514.20" y="183.65" width="4.3" height="4.3" fill="#000"/>
<rect x="515.31" y="182.05" width="4.3" height="4.3" fill="#000"/>
<rect x="516.41" y="179.55" width="4.3" height="4.3" fill="#000"/>
<rect x="517.52" y="177.05" width="4.3" height="4.3" fill="#000"/>
<rect x="518.62" y="174.61" width="4.3" height="4.3" fill="#000"/>
<rect x="519.73" y="172.39" width="4.3" height="4.3" fill="#000"/>
<rect x="520.84" y="170.18" width="4.3" height="4.3" fill="#000"/>
<rect x="524.16" y="163.54" width="4.3" height="4.3" fill="#000"/>
<rect x="525.26" y="161.12" width="4.3" height="4.3" fill="#000"/>
<rect x="526.37" y="158.58" width="4.3" height="4.3" fill="#000"/>
<rect x="527.48" y="155.87" width="4.3" height="4.3" fill="#000"/>
<rect x="528.58" y="152.91" width="4.3" height="4.3" fill="#000"/>
<rect x="529.69" y="149.96" width="4.3" height="4.3" fill="#000"/>
<rect x="530.79" y="147.01" width="4.3" height="4.3" fill="#000"/>
<rect x="531.90" y="144.90" width="4.3" height="4.3" fill="#000"/>
<rect x="533.01" y="144.03" width="4.3" height="4.3" fill="#000"/>
<rect x="534.11" y="144.17" width="4.3" height="4.3" fill="#000"/>
<rect x="535.22" y="144.57" width="4.3" height="4.3" fill="#000"/>
<rect x="536.33" y="144.97" width="4.3" height="4.3" fill="#000"/>
<rect x="537.43" y="145.78" width="4.3" height="4.3" fill="#000"/>
<rect x="538.54" y="147.54" width="4.3" height="4.3" fill="#000"/>
<rect x="539.64" y="149.12" width="4.3" height="4.3" fill="#000"/>
<rect x="540.75" y="149.94" width="4.3" height="4.3" fill="#000"/>
<rect x="541.86" y="150.77" width="4.3" height="4.3" fill="#000"/>
<rect x="542.96" y="156.87" width="4.3" height="4.3" fill="#000"/>
<rect x="544.07" y="158.28" width="4.3" height="4.3" fill="#000"/>
<rect x="545.18" y="159.81" width="4.3" height="4.3" fill="#000"/>
<rect x="546.28" y="162.40" width="4.3" height="4.3" fill="#000"/>
<rect x="547.39" y="164.65" width="4.3" height="4.3" fill="#000"/>
<rect x="548.49" y="166.40" width="4.3" height="4.3" fill="#000"/>
<rect x="549.60" y="168.15" width="4.3" height="4.3" fill="#000"/>
<rect x="550.71" y="169.52" width="4.3" height="4.3" fill="#000"/>
<rect x="551.81" y="170.64" width="4.3" height="4.3" fill="#000"/>
<rect x="552.92" y="171.76" width="4.3" height="4.3" fill="#000"/>
<rect x="554.02" y="172.79" width="4.3" height="4.3" fill="#000"/>
<rect x="555.13" y="173.50" width="4.3" height="4.3" fill="#000"/>
<rect x="556.24" y="174.20" width="4.3" height="4.3" fill="#000"/>
<rect x="557.34" y="174.91" width="4.3" height="4.3" fill="#000"/>
<rect x="558.45" y="175.47" width="4.3" height="4.3" fill="#000"/>
<rect x="559.56" y="175.99" width="4.3" height="4.3" fill="#000"/>
<rect x="560.66" y="176.51" width="4.3" height="4.3" fill="#000"/>
<rect x="561.77" y="177.03" width="4.3" height="4.3" fill="#000"/>
<rect x="562.88" y="177.55" width="4.3" height="4.3" fill="#000"/>
<rect x="563.98" y="177.86" width="4.3" height="4.3" fill="#000"/>
<rect x="565.09" y="178.17" width="4.3" height="4.3" fill="#000"/>
<rect x="566.19" y="178.48" width="4.3" height="4.3" fill="#000"/>
<rect x="567.30" y="178.78" width="4.3" height="4.3" fill="#000"/>
<rect x="568.41" y="179.09" width="4.3" height="4.3" fill="#000"/>
<rect x="569.51" y="179.40" width="4.3" height="4.3" fill="#000"/>
<rect x="570.62" y="179.71" width="4.3" height="4.3" fill="#000"/>
<rect x="571.73" y="180.02" width="4.3" height="4.3" fill="#000"/>
<rect x="572.83" y="180.33" width="4.3" height="4.3" fill="#000"/>
<rect x="573.94" y="180.52" width="4.3" height="4.3" fill="#000"/>
<rect x="575.04" y="180.64" width="4.3" height="4.3" fill="#000"/>
<rect x="576.15" y="180.75" width="4.3" height="4.3" fill="#000"/>
<rect x="577.26" y="180.87" width="4.3" height="4.3" fill="#000"/>
<rect x="578.36" y="180.98" width="4.3" height="4.3" fill="#000"/>
<rect x="579.47" y="181.10" width="4.3" height="4.3" fill="#000"/>
<rect x="580.58" y="181.22" width="4.3" height="4.3" fill="#000"/>
<rect x="581.68" y="181.33" width="4.3" height="4.3" fill="#000"/>
<rect x="582.79" y="181.45" width="4.3" height="4.3" fill="#000"/>
<rect x="583.89" y="181.49" width="4.3" height="4.3" fill="#000"/>
<rect x="585.00" y="181.54" width="4.3" height="4.3" fill="#000"/>
<rect x="586.11" y="181.58" width="4.3" height="4.3" fill="#000"/>
<rect x="587.21" y="181.63" width="4.3" height="4.3" fill="#000"/>
<rect x="588.32" y="181.67" width="4.3" height="4.3" fill="#000"/>
<rect x="589.43" y="181.71" width="4.3" height="4.3" fill="#000"/>
<rect x="590.53" y="181.76" width="4.3" height="4.3" fill="#000"/>
<rect x="591.64" y="181.80" width="4.3" height="4.3" fill="#000"/>
<rect x="592.74" y="181.85" width="4.3" height="4.3" fill="#000"/>
<rect x="593.85" y="181.89" width="4.3" height="4.3" fill="#000"/>
<rect x="594.96" y="181.94" width="4.3" height="4.3" fill="#000"/>
<rect x="596.06" y="181.98" width="4.3" height="4.3" fill="#000"/>
<rect x="597.17" y="182.02" width="4.3" height="4.3" fill="#000"/>
<rect x="598.27" y="182.06" width="4.3" height="4.3" fill="#000"/>
<rect x="599.38" y="182.10" width="4.3" height="4.3" fill="#000"/>
<rect x="600.49" y="182.14" width="4.3" height="4.3" fill="#000"/>
<rect x="601.59" y="182.17" width="4.3" height="4.3" fill="#000"/>
<rect x="602.70" y="182.21" width="4.3" height="4.3" fill="#000"/>
<rect x="603.81" y="182.25" width="4.3" height="4.3" fill="#000"/>
<rect x="604.91" y="182.29" width="4.3" height="4.3" fill="#000"/>
<rect x="606.02" y="182.32" width="4.3" height="4.3" fill="#000"/>
<rect x="607.12" y="182.36" width="4.3" height="4.3" fill="#000"/>
<rect x="608.23" y="182.40" width="4.3" height="4.3" fill="#000"/>
<rect x="609.34" y="182.43" width="4.3" height="4.3" fill="#000"/>
<rect x="610.44" y="182.47" width="4.3" height="4.3" fill="#000"/>
<rect x="611.55" y="182.51" width="4.3" height="4.3" fill="#000"/>
<rect x="612.66" y="182.54" width="4.3" height="4.3" fill="#000"/>
<rect x="613.76" y="182.62" width="4.3" height="4.3" fill="#000"/>
<rect x="614.87" y="182.70" width="4.3" height="4.3" fill="#000"/>
<rect x="615.98" y="182.78" width="4.3" height="4.3" fill="#000"/>
<rect x="617.08" y="182.86" width="4.3" height="4.3" fill="#000"/>
<rect x="618.19" y="182.95" width="4.3" height="4.3" fill="#000"/>
<rect x="619.29" y="183.03" width="4.3" height="4.3" fill="#000"/>
<rect x="620.40" y="183.11" width="4.3" height="4.3" fill="#000"/>
<rect x="621.51" y="183.20" width="4.3" height="4.3" fill="#000"/>
<rect x="622.61" y="183.28" width="4.3" height="4.3" fill="#000"/>
<rect x="623.72" y="183.36" width="4.3" height="4.3" fill="#000"/>
<rect x="624.83" y="183.45" width="4.3" height="4.3" fill="#000"/>
<rect x="625.93" y="183.53" width="4.3" height="4.3" fill="#000"/>
<rect x="627.04" y="183.61" width="4.3" height="4.3" fill="#000"/>
<rect x="628.14" y="183.69" width="4.3" height="4.3" fill="#000"/>
<rect x="629.25" y="183.78" width="4.3" height="4.3" fill="#000"/>
<rect x="630.36" y="183.86" width="4.3" height="4.3" fill="#000"/>
<rect x="631.46" y="183.94" width="4.3" height="4.3" fill="#000"/>
<rect x="632.57" y="184.03" width="4.3" height="4.3" fill="#000"/>
<rect x="633.68" y="184.12" width="4.3" height="4.3" fill="#000"/>
<rect x="634.78" y="184.23" width="4.3" height="4.3" fill="#000"/>
<rect x="635.89" y="184.33" width="4.3" height="4.3" fill="#000"/>
<rect x="636.99" y="184.43" width="4.3" height="4.3" fill="#000"/>
<rect x="638.10" y="184.53" width="4.3" height="4.3" fill="#000"/>
<rect x="639.21" y="184.64" width="4.3" height="4.3" fill="#000"/>
<rect x="640.31" y="184.74" width="4.3" height="4.3" fill="#000"/>
<rect x="641.42" y="184.84" width="4.3" height="4.3" fill="#000"/>
<rect x="642.52" y="184.95" width="4.3" height="4.3" fill="#000"/>
<rect x="643.63" y="185.05" width="4.3" height="4.3" fill="#000"/>
<rect x="644.74" y="185.19" width="4.3" height="4.3" fill="#000"/>
<rect x="645.84" y="185.33" width="4.3" height="4.3" fill="#000"/>
<rect x="646.95" y="185.47" width="4.3" height="4.3" fill="#000"/>
<rect x="648.06" y="185.60" width="4.3" height="4.3" fill="#000"/>
<rect x="649.16" y="185.74" width="4.3" height="4.3" fill="#000"/>
<rect x="650.27" y="185.88" width="4.3" height="4.3" fill="#000"/>
<rect x="651.38" y="186.02" width="4.3" height="4.3" fill="#000"/>
<rect x="652.48" y="186.16" width="4.3" height="4.3" fill="#000"/>
<rect x="653.59" y="186.30" width="4.3" height="4.3" fill="#000"/>
<rect x="654.69" y="186.43" width="4.3" height="4.3" fill="#000"/>
<rect x="655.80" y="186.57" width="4.3" height="4.3" fill="#000"/>
<rect x="656.91" y="186.71" width="4.3" height="4.3" fill="#000"/>
<rect x="658.01" y="186.85" width="4.3" height="4.3" fill="#000"/>
<rect x="659.12" y="186.97" width="4.3" height="4.3" fill="#000"/>
<rect x="660.23" y="187.10" width="4.3" height="4.3" fill="#000"/>
<rect x="661.33" y="187.22" width="4.3" height="4.3" fill="#000"/>
<rect x="662.44" y="187.35" width="4.3" height="4.3" fill="#000"/>
<rect x="663.54" y="187.47" width="4.3" height="4.3" fill="#000"/>
<rect x="664.65" y="187.60" width="4.3" height="4.3" fill="#000"/>
<rect x="665.76" y="187.72" width="4.3" height="4.3" fill="#000"/>
<rect x="666.86" y="187.85" width="4.3" height="4.3" fill="#000"/>
<rect x="667.97" y="187.85" width="4.3" height="4.3" fill="#000"/>
<rect x="669.08" y="187.85" width="4.3" height="4.3" fill="#000"/>
<rect x="670.18" y="187.85" width="4.3" height="4.3" fill="#000"/>
<rect x="671.29" y="187.85" width="4.3" height="4.3" fill="#000"/>
<rect x="672.39" y="187.85" width="4.3" height="4.3" fill="#000"/>
<rect x="673.50" y="187.85" width="4.3" height="4.3" fill="#000"/>
<rect x="674.61" y="187.85" width="4.3" height="4.3" fill="#000"/>
<rect x="675.71" y="187.85" width="4.3" height="4.3" fill="#000"/>
<rect x="676.82" y="187.85" width="4.3" height="4.3" fill="#000"/>
<rect x="677.93" y="187.85" width="4.3" height="4.3" fill="#000"/>
<rect x="679.03" y="187.85" width="4.3" height="4.3" fill="#000"/>
<rect x="680.14" y="187.85" width="4.3" height="4.3" fill="#000"/>
<rect x="681.24" y="187.85" width="4.3" height="4.3" fill="#000"/>
<rect x="682.35" y="187.85" width="4.3" height="4.3" fill="#000"/>
</g><g clip-path="url(#pb)">
<circle cx="474.31" cy="190.00" r="2.3" fill="#e3202a"/>
<circle cx="475.42" cy="189.99" r="2.3" fill="#e3202a"/>
<circle cx="476.52" cy="189.98" r="2.3" fill="#e3202a"/>
<circle cx="477.63" cy="189.97" r="2.3" fill="#e3202a"/>
<circle cx="478.74" cy="189.96" r="2.3" fill="#e3202a"/>
<circle cx="479.84" cy="189.95" r="2.3" fill="#e3202a"/>
<circle cx="480.95" cy="189.94" r="2.3" fill="#e3202a"/>
<circle cx="482.06" cy="189.93" r="2.3" fill="#e3202a"/>
<circle cx="483.16" cy="189.91" r="2.3" fill="#e3202a"/>
<circle cx="484.27" cy="189.90" r="2.3" fill="#e3202a"/>
<circle cx="485.38" cy="189.89" r="2.3" fill="#e3202a"/>
<circle cx="486.48" cy="189.88" r="2.3" fill="#e3202a"/>
<circle cx="487.59" cy="189.87" r="2.3" fill="#e3202a"/>
<circle cx="488.69" cy="189.86" r="2.3" fill="#e3202a"/>
<circle cx="489.80" cy="189.85" r="2.3" fill="#e3202a"/>
<circle cx="490.91" cy="189.84" r="2.3" fill="#e3202a"/>
<circle cx="492.01" cy="189.83" r="2.3" fill="#e3202a"/>
<circle cx="493.12" cy="189.82" r="2.3" fill="#e3202a"/>
<circle cx="494.23" cy="189.81" r="2.3" fill="#e3202a"/>
<circle cx="495.33" cy="189.80" r="2.3" fill="#e3202a"/>
<circle cx="496.44" cy="189.79" r="2.3" fill="#e3202a"/>
<circle cx="497.54" cy="189.77" r="2.3" fill="#e3202a"/>
<circle cx="498.65" cy="189.76" r="2.3" fill="#e3202a"/>
<circle cx="499.76" cy="189.75" r="2.3" fill="#e3202a"/>
<circle cx="500.86" cy="189.74" r="2.3" fill="#e3202a"/>
<circle cx="501.97" cy="189.73" r="2.3" fill="#e3202a"/>
<circle cx="503.07" cy="189.72" r="2.3" fill="#e3202a"/>
<circle cx="504.18" cy="189.71" r="2.3" fill="#e3202a"/>
<circle cx="505.29" cy="189.70" r="2.3" fill="#e3202a"/>
<circle cx="506.39" cy="189.68" r="2.3" fill="#e3202a"/>
<circle cx="507.50" cy="189.65" r="2.3" fill="#e3202a"/>
<circle cx="508.61" cy="189.63" r="2.3" fill="#e3202a"/>
<circle cx="509.71" cy="189.61" r="2.3" fill="#e3202a"/>
<circle cx="510.82" cy="189.59" r="2.3" fill="#e3202a"/>
<circle cx="511.93" cy="189.56" r="2.3" fill="#e3202a"/>
<circle cx="513.03" cy="189.54" r="2.3" fill="#e3202a"/>
<circle cx="514.14" cy="189.52" r="2.3" fill="#e3202a"/>
<circle cx="515.24" cy="189.50" r="2.3" fill="#e3202a"/>
<circle cx="516.35" cy="189.47" r="2.3" fill="#e3202a"/>
<circle cx="517.46" cy="189.45" r="2.3" fill="#e3202a"/>
<circle cx="518.56" cy="189.43" r="2.3" fill="#e3202a"/>
<circle cx="519.67" cy="189.40" r="2.3" fill="#e3202a"/>
<circle cx="520.77" cy="189.38" r="2.3" fill="#e3202a"/>
<circle cx="521.88" cy="189.36" r="2.3" fill="#e3202a"/>
<circle cx="522.99" cy="189.34" r="2.3" fill="#e3202a"/>
<circle cx="524.09" cy="189.31" r="2.3" fill="#e3202a"/>
<circle cx="525.20" cy="189.29" r="2.3" fill="#e3202a"/>
<circle cx="526.31" cy="189.27" r="2.3" fill="#e3202a"/>
<circle cx="527.41" cy="189.25" r="2.3" fill="#e3202a"/>
<circle cx="528.52" cy="189.22" r="2.3" fill="#e3202a"/>
<circle cx="529.62" cy="189.20" r="2.3" fill="#e3202a"/>
<circle cx="530.73" cy="189.17" r="2.3" fill="#e3202a"/>
<circle cx="531.84" cy="189.14" r="2.3" fill="#e3202a"/>
<circle cx="532.94" cy="189.12" r="2.3" fill="#e3202a"/>
<circle cx="534.05" cy="189.09" r="2.3" fill="#e3202a"/>
<circle cx="535.16" cy="189.06" r="2.3" fill="#e3202a"/>
<circle cx="536.26" cy="189.03" r="2.3" fill="#e3202a"/>
<circle cx="537.37" cy="189.00" r="2.3" fill="#e3202a"/>
<circle cx="538.48" cy="188.97" r="2.3" fill="#e3202a"/>
<circle cx="539.58" cy="188.95" r="2.3" fill="#e3202a"/>
<circle cx="540.69" cy="188.92" r="2.3" fill="#e3202a"/>
<circle cx="541.79" cy="188.89" r="2.3" fill="#e3202a"/>
<circle cx="542.90" cy="188.86" r="2.3" fill="#e3202a"/>
<circle cx="544.01" cy="188.83" r="2.3" fill="#e3202a"/>
<circle cx="545.11" cy="188.81" r="2.3" fill="#e3202a"/>
<circle cx="546.22" cy="188.78" r="2.3" fill="#e3202a"/>
<circle cx="547.33" cy="188.75" r="2.3" fill="#e3202a"/>
<circle cx="548.43" cy="188.72" r="2.3" fill="#e3202a"/>
<circle cx="549.54" cy="188.69" r="2.3" fill="#e3202a"/>
<circle cx="550.64" cy="188.67" r="2.3" fill="#e3202a"/>
<circle cx="551.75" cy="188.64" r="2.3" fill="#e3202a"/>
<circle cx="552.86" cy="188.61" r="2.3" fill="#e3202a"/>
<circle cx="553.96" cy="188.58" r="2.3" fill="#e3202a"/>
<circle cx="555.07" cy="188.55" r="2.3" fill="#e3202a"/>
<circle cx="556.17" cy="188.53" r="2.3" fill="#e3202a"/>
<circle cx="557.28" cy="188.50" r="2.3" fill="#e3202a"/>
<circle cx="558.39" cy="188.47" r="2.3" fill="#e3202a"/>
<circle cx="559.49" cy="188.44" r="2.3" fill="#e3202a"/>
<circle cx="560.60" cy="188.41" r="2.3" fill="#e3202a"/>
<circle cx="561.71" cy="188.38" r="2.3" fill="#e3202a"/>
<circle cx="562.81" cy="188.36" r="2.3" fill="#e3202a"/>
<circle cx="563.92" cy="188.33" r="2.3" fill="#e3202a"/>
<circle cx="565.02" cy="188.30" r="2.3" fill="#e3202a"/>
<circle cx="566.13" cy="188.27" r="2.3" fill="#e3202a"/>
<circle cx="567.24" cy="188.24" r="2.3" fill="#e3202a"/>
<circle cx="568.34" cy="188.22" r="2.3" fill="#e3202a"/>
<circle cx="569.45" cy="188.19" r="2.3" fill="#e3202a"/>
<circle cx="570.56" cy="188.16" r="2.3" fill="#e3202a"/>
<circle cx="571.66" cy="188.13" r="2.3" fill="#e3202a"/>
<circle cx="572.77" cy="188.11" r="2.3" fill="#e3202a"/>
<circle cx="573.88" cy="188.08" r="2.3" fill="#e3202a"/>
<circle cx="574.98" cy="188.05" r="2.3" fill="#e3202a"/>
<circle cx="576.09" cy="188.02" r="2.3" fill="#e3202a"/>
<circle cx="577.19" cy="187.99" r="2.3" fill="#e3202a"/>
<circle cx="578.30" cy="187.97" r="2.3" fill="#e3202a"/>
<circle cx="579.41" cy="187.94" r="2.3" fill="#e3202a"/>
<circle cx="580.51" cy="187.91" r="2.3" fill="#e3202a"/>
<circle cx="581.62" cy="187.88" r="2.3" fill="#e3202a"/>
<circle cx="582.73" cy="187.86" r="2.3" fill="#e3202a"/>
<circle cx="583.83" cy="187.83" r="2.3" fill="#e3202a"/>
<circle cx="584.94" cy="187.80" r="2.3" fill="#e3202a"/>
<circle cx="586.04" cy="187.72" r="2.3" fill="#e3202a"/>
<circle cx="587.15" cy="187.64" r="2.3" fill="#e3202a"/>
<circle cx="588.26" cy="187.56" r="2.3" fill="#e3202a"/>
<circle cx="589.36" cy="187.49" r="2.3" fill="#e3202a"/>
<circle cx="590.47" cy="187.41" r="2.3" fill="#e3202a"/>
<circle cx="591.58" cy="187.33" r="2.3" fill="#e3202a"/>
<circle cx="592.68" cy="187.25" r="2.3" fill="#e3202a"/>
<circle cx="593.79" cy="187.17" r="2.3" fill="#e3202a"/>
<circle cx="594.89" cy="187.09" r="2.3" fill="#e3202a"/>
<circle cx="596.00" cy="187.01" r="2.3" fill="#e3202a"/>
<circle cx="597.11" cy="186.94" r="2.3" fill="#e3202a"/>
<circle cx="598.21" cy="186.86" r="2.3" fill="#e3202a"/>
<circle cx="599.32" cy="186.78" r="2.3" fill="#e3202a"/>
<circle cx="600.42" cy="186.70" r="2.3" fill="#e3202a"/>
<circle cx="601.53" cy="186.54" r="2.3" fill="#e3202a"/>
<circle cx="602.64" cy="186.38" r="2.3" fill="#e3202a"/>
<circle cx="603.74" cy="186.22" r="2.3" fill="#e3202a"/>
<circle cx="604.85" cy="186.05" r="2.3" fill="#e3202a"/>
<circle cx="605.96" cy="185.89" r="2.3" fill="#e3202a"/>
<circle cx="607.06" cy="185.73" r="2.3" fill="#e3202a"/>
<circle cx="608.17" cy="185.57" r="2.3" fill="#e3202a"/>
<circle cx="609.27" cy="185.41" r="2.3" fill="#e3202a"/>
<circle cx="610.38" cy="185.25" r="2.3" fill="#e3202a"/>
<circle cx="611.49" cy="185.08" r="2.3" fill="#e3202a"/>
<circle cx="612.59" cy="184.92" r="2.3" fill="#e3202a"/>
<circle cx="613.70" cy="184.76" r="2.3" fill="#e3202a"/>
<circle cx="614.81" cy="184.60" r="2.3" fill="#e3202a"/>
<circle cx="615.91" cy="184.28" r="2.3" fill="#e3202a"/>
<circle cx="617.02" cy="183.96" r="2.3" fill="#e3202a"/>
<circle cx="618.12" cy="183.64" r="2.3" fill="#e3202a"/>
<circle cx="619.23" cy="183.32" r="2.3" fill="#e3202a"/>
<circle cx="620.34" cy="183.00" r="2.3" fill="#e3202a"/>
<circle cx="621.44" cy="182.50" r="2.3" fill="#e3202a"/>
<circle cx="622.55" cy="182.00" r="2.3" fill="#e3202a"/>
<circle cx="623.66" cy="181.50" r="2.3" fill="#e3202a"/>
<circle cx="624.76" cy="181.00" r="2.3" fill="#e3202a"/>
<circle cx="625.87" cy="180.17" r="2.3" fill="#e3202a"/>
<circle cx="626.98" cy="179.33" r="2.3" fill="#e3202a"/>
<circle cx="628.08" cy="178.50" r="2.3" fill="#e3202a"/>
<circle cx="629.19" cy="177.00" r="2.3" fill="#e3202a"/>
<circle cx="630.29" cy="175.50" r="2.3" fill="#e3202a"/>
<circle cx="631.40" cy="173.50" r="2.3" fill="#e3202a"/>
<circle cx="632.51" cy="171.50" r="2.3" fill="#e3202a"/>
<circle cx="633.61" cy="169.00" r="2.3" fill="#e3202a"/>
<circle cx="634.72" cy="166.00" r="2.3" fill="#e3202a"/>
<circle cx="635.83" cy="162.00" r="2.3" fill="#e3202a"/>
<circle cx="636.93" cy="156.00" r="2.3" fill="#e3202a"/>
<circle cx="638.04" cy="149.00" r="2.3" fill="#e3202a"/>
<circle cx="639.14" cy="143.90" r="2.3" fill="#e3202a"/>
<circle cx="640.25" cy="139.00" r="2.3" fill="#e3202a"/>
<circle cx="641.36" cy="128.10" r="2.3" fill="#e3202a"/>
<circle cx="642.46" cy="119.10" r="2.3" fill="#e3202a"/>
<circle cx="643.57" cy="110.70" r="2.3" fill="#e3202a"/>
<circle cx="644.67" cy="99.30" r="2.3" fill="#e3202a"/>
<circle cx="645.78" cy="91.30" r="2.3" fill="#e3202a"/>
<circle cx="646.89" cy="81.50" r="2.3" fill="#e3202a"/>
<circle cx="647.99" cy="74.50" r="2.3" fill="#e3202a"/>
<circle cx="649.10" cy="67.50" r="2.3" fill="#e3202a"/>
<circle cx="650.21" cy="65.50" r="2.3" fill="#e3202a"/>
<circle cx="651.31" cy="55.10" r="2.3" fill="#e3202a"/>
<circle cx="652.42" cy="59.30" r="2.3" fill="#e3202a"/>
<circle cx="653.52" cy="67.20" r="2.3" fill="#e3202a"/>
<circle cx="654.63" cy="72.20" r="2.3" fill="#e3202a"/>
<circle cx="655.74" cy="79.90" r="2.3" fill="#e3202a"/>
<circle cx="656.84" cy="88.50" r="2.3" fill="#e3202a"/>
<circle cx="657.95" cy="100.10" r="2.3" fill="#e3202a"/>
<circle cx="659.06" cy="112.10" r="2.3" fill="#e3202a"/>
<circle cx="660.16" cy="122.30" r="2.3" fill="#e3202a"/>
<circle cx="661.27" cy="138.10" r="2.3" fill="#e3202a"/>
<circle cx="662.38" cy="148.70" r="2.3" fill="#e3202a"/>
<circle cx="663.48" cy="158.30" r="2.3" fill="#e3202a"/>
<circle cx="664.59" cy="166.60" r="2.3" fill="#e3202a"/>
<circle cx="665.69" cy="174.10" r="2.3" fill="#e3202a"/>
<circle cx="666.80" cy="180.30" r="2.3" fill="#e3202a"/>
<circle cx="667.91" cy="184.00" r="2.3" fill="#e3202a"/>
<circle cx="669.01" cy="186.50" r="2.3" fill="#e3202a"/>
<circle cx="670.12" cy="188.00" r="2.3" fill="#e3202a"/>
<circle cx="671.23" cy="189.00" r="2.3" fill="#e3202a"/>
<circle cx="672.33" cy="189.25" r="2.3" fill="#e3202a"/>
<circle cx="673.44" cy="189.50" r="2.3" fill="#e3202a"/>
<circle cx="674.54" cy="189.51" r="2.3" fill="#e3202a"/>
<circle cx="675.65" cy="189.52" r="2.3" fill="#e3202a"/>
<circle cx="676.76" cy="189.53" r="2.3" fill="#e3202a"/>
<circle cx="677.86" cy="189.54" r="2.3" fill="#e3202a"/>
<circle cx="678.97" cy="189.55" r="2.3" fill="#e3202a"/>
<circle cx="680.08" cy="189.56" r="2.3" fill="#e3202a"/>
<circle cx="681.18" cy="189.57" r="2.3" fill="#e3202a"/>
<circle cx="682.29" cy="189.58" r="2.3" fill="#e3202a"/>
<circle cx="683.39" cy="189.59" r="2.3" fill="#e3202a"/>
<circle cx="684.50" cy="189.60" r="2.3" fill="#e3202a"/>
</g>
<line x1="474.2" y1="25" x2="474.2" y2="194.79999999999998" stroke="#222" stroke-width="1.3"/>
<line x1="473.59999999999997" y1="194.2" x2="685.4" y2="194.2" stroke="#222" stroke-width="1.3"/>
<line x1="470.2" y1="190.0" x2="474.2" y2="190.0" stroke="#222" stroke-width="1"/>
<text x="468.6" y="192.3" font-size="6.5" fill="#1e1e1e" text-anchor="end">0.000</text>
<line x1="472.2" y1="179.7" x2="474.2" y2="179.7" stroke="#222" stroke-width="1"/>
<line x1="470.2" y1="169.4" x2="474.2" y2="169.4" stroke="#222" stroke-width="1"/>
<text x="468.6" y="171.7" font-size="6.5" fill="#1e1e1e" text-anchor="end">0.005</text>
<line x1="472.2" y1="159.2" x2="474.2" y2="159.2" stroke="#222" stroke-width="1"/>
<line x1="470.2" y1="148.9" x2="474.2" y2="148.9" stroke="#222" stroke-width="1"/>
<text x="468.6" y="151.2" font-size="6.5" fill="#1e1e1e" text-anchor="end">0.010</text>
<line x1="472.2" y1="138.6" x2="474.2" y2="138.6" stroke="#222" stroke-width="1"/>
<line x1="470.2" y1="128.3" x2="474.2" y2="128.3" stroke="#222" stroke-width="1"/>
<text x="468.6" y="130.6" font-size="6.5" fill="#1e1e1e" text-anchor="end">0.015</text>
<line x1="472.2" y1="118.0" x2="474.2" y2="118.0" stroke="#222" stroke-width="1"/>
<line x1="470.2" y1="107.8" x2="474.2" y2="107.8" stroke="#222" stroke-width="1"/>
<text x="468.6" y="110.0" font-size="6.5" fill="#1e1e1e" text-anchor="end">0.020</text>
<line x1="472.2" y1="97.5" x2="474.2" y2="97.5" stroke="#222" stroke-width="1"/>
<line x1="470.2" y1="87.2" x2="474.2" y2="87.2" stroke="#222" stroke-width="1"/>
<text x="468.6" y="89.5" font-size="6.5" fill="#1e1e1e" text-anchor="end">0.025</text>
<line x1="472.2" y1="76.9" x2="474.2" y2="76.9" stroke="#222" stroke-width="1"/>
<line x1="470.2" y1="66.6" x2="474.2" y2="66.6" stroke="#222" stroke-width="1"/>
<text x="468.6" y="68.9" font-size="6.5" fill="#1e1e1e" text-anchor="end">0.030</text>
<line x1="472.2" y1="56.3" x2="474.2" y2="56.3" stroke="#222" stroke-width="1"/>
<line x1="470.2" y1="46.1" x2="474.2" y2="46.1" stroke="#222" stroke-width="1"/>
<text x="468.6" y="48.4" font-size="6.5" fill="#1e1e1e" text-anchor="end">0.035</text>
<line x1="472.2" y1="35.8" x2="474.2" y2="35.8" stroke="#222" stroke-width="1"/>
<line x1="470.2" y1="25.5" x2="474.2" y2="25.5" stroke="#222" stroke-width="1"/>
<text x="468.6" y="27.8" font-size="6.5" fill="#1e1e1e" text-anchor="end">0.040</text>
<line x1="485.4" y1="194.2" x2="485.4" y2="196.5" stroke="#222" stroke-width="1"/>
<line x1="507.5" y1="194.2" x2="507.5" y2="198.2" stroke="#222" stroke-width="1"/>
<text x="507.5" y="205.6" font-size="6.4" fill="#1e1e1e" text-anchor="middle">40</text>
<line x1="529.6" y1="194.2" x2="529.6" y2="196.5" stroke="#222" stroke-width="1"/>
<line x1="551.8" y1="194.2" x2="551.8" y2="198.2" stroke="#222" stroke-width="1"/>
<text x="551.8" y="205.6" font-size="6.4" fill="#1e1e1e" text-anchor="middle">80</text>
<line x1="573.9" y1="194.2" x2="573.9" y2="196.5" stroke="#222" stroke-width="1"/>
<line x1="596.0" y1="194.2" x2="596.0" y2="198.2" stroke="#222" stroke-width="1"/>
<text x="596.0" y="205.6" font-size="6.4" fill="#1e1e1e" text-anchor="middle">120</text>
<line x1="618.1" y1="194.2" x2="618.1" y2="196.5" stroke="#222" stroke-width="1"/>
<line x1="640.2" y1="194.2" x2="640.2" y2="198.2" stroke="#222" stroke-width="1"/>
<text x="640.2" y="205.6" font-size="6.4" fill="#1e1e1e" text-anchor="middle">160</text>
<line x1="662.4" y1="194.2" x2="662.4" y2="196.5" stroke="#222" stroke-width="1"/>
<line x1="684.5" y1="194.2" x2="684.5" y2="198.2" stroke="#222" stroke-width="1"/>
<text x="684.5" y="205.6" font-size="6.4" fill="#1e1e1e" text-anchor="middle">200</text>
<text x="546.1" y="224.6" font-size="10.6" fill="#111" textLength="73.5" lengthAdjust="spacingAndGlyphs">Texton Number</text>
<text transform="translate(448.6,117.3) rotate(-90)" font-size="10.6" fill="#111" text-anchor="middle" textLength="53" lengthAdjust="spacingAndGlyphs">Distribution</text>
<rect x="485.5" y="66.2" width="110" height="21.6" fill="#fff" stroke="#c4c4c4" stroke-width="0.8"/>
<line x1="489.6" y1="72.4" x2="507" y2="72.4" stroke="#888" stroke-width="0.8"/>
<rect x="494.90" y="69.20" width="6.8" height="6.8" fill="#000"/>
<line x1="489.6" y1="82.9" x2="507" y2="82.9" stroke="#f0a0a0" stroke-width="0.8"/>
<circle cx="498.50" cy="82.90" r="3.5" fill="#e3202a"/>
<text x="515.7" y="74.4" font-size="7.8" fill="#000">Neurite</text>
<text x="515.7" y="85" font-size="7.8" fill="#000" textLength="41.5" lengthAdjust="spacingAndGlyphs">Background</text>
<text x="413.0" y="280.3" font-size="13.4" fill="#111" textLength="8.6" lengthAdjust="spacingAndGlyphs">C</text>
<polyline points="489.67,310.50 506.24,357.40 522.81,374.70 539.38,385.50 555.95,394.20 572.52,402.05 589.09,409.30 605.66,416.10 622.23,423.00 638.80,430.70 655.37,438.90" fill="none" stroke="#334ca1" stroke-width="2.2" stroke-linejoin="round"/>
<circle cx="489.67" cy="310.50" r="3.45" fill="#334ca1"/>
<circle cx="506.24" cy="357.40" r="3.45" fill="#334ca1"/>
<circle cx="522.81" cy="374.70" r="3.45" fill="#334ca1"/>
<circle cx="539.38" cy="385.50" r="3.45" fill="#334ca1"/>
<circle cx="555.95" cy="394.20" r="3.45" fill="#334ca1"/>
<circle cx="572.52" cy="402.05" r="3.45" fill="#334ca1"/>
<circle cx="589.09" cy="409.30" r="3.45" fill="#334ca1"/>
<circle cx="605.66" cy="416.10" r="3.45" fill="#334ca1"/>
<circle cx="622.23" cy="423.00" r="3.45" fill="#334ca1"/>
<circle cx="638.80" cy="430.70" r="3.45" fill="#334ca1"/>
<circle cx="655.37" cy="438.90" r="3.45" fill="#334ca1"/>
<polyline points="489.67,433.30 506.24,378.40 522.81,357.40 539.38,344.90 555.95,336.20 572.52,329.70 589.09,324.50 605.66,319.40 622.23,315.90 638.80,312.40 655.37,309.40" fill="none" stroke="#151515" stroke-width="2.1" stroke-linejoin="round"/>
<rect x="486.37" y="430.00" width="6.6" height="6.6" fill="#1a1a1a"/>
<rect x="502.94" y="375.10" width="6.6" height="6.6" fill="#1a1a1a"/>
<rect x="519.51" y="354.10" width="6.6" height="6.6" fill="#1a1a1a"/>
<rect x="536.08" y="341.60" width="6.6" height="6.6" fill="#1a1a1a"/>
<rect x="552.65" y="332.90" width="6.6" height="6.6" fill="#1a1a1a"/>
<rect x="569.22" y="326.40" width="6.6" height="6.6" fill="#1a1a1a"/>
<rect x="585.79" y="321.20" width="6.6" height="6.6" fill="#1a1a1a"/>
<rect x="602.36" y="316.10" width="6.6" height="6.6" fill="#1a1a1a"/>
<rect x="618.93" y="312.60" width="6.6" height="6.6" fill="#1a1a1a"/>
<rect x="635.50" y="309.10" width="6.6" height="6.6" fill="#1a1a1a"/>
<rect x="652.07" y="306.10" width="6.6" height="6.6" fill="#1a1a1a"/>
<line x1="671.9" y1="291.8" x2="671.9" y2="451.6" stroke="#34427e" stroke-width="2"/>
<line x1="473.1" y1="292.8" x2="672.9" y2="292.8" stroke="#111" stroke-width="2"/>
<line x1="472.1" y1="450.6" x2="671.9" y2="450.6" stroke="#111" stroke-width="2"/>
<line x1="473.1" y1="291.8" x2="473.1" y2="451.6" stroke="#111" stroke-width="2"/>
<line x1="469.6" y1="436.4" x2="473.1" y2="436.4" stroke="#111" stroke-width="1.5"/>
<text x="467.4" y="439.1" font-size="7.6" fill="#333" text-anchor="end">0.56</text>
<line x1="471.1" y1="422.1" x2="473.1" y2="422.1" stroke="#111" stroke-width="1.3"/>
<line x1="469.6" y1="407.7" x2="473.1" y2="407.7" stroke="#111" stroke-width="1.5"/>
<text x="467.4" y="410.4" font-size="7.6" fill="#333" text-anchor="end">0.57</text>
<line x1="471.1" y1="393.3" x2="473.1" y2="393.3" stroke="#111" stroke-width="1.3"/>
<line x1="469.6" y1="378.9" x2="473.1" y2="378.9" stroke="#111" stroke-width="1.5"/>
<text x="467.4" y="381.6" font-size="7.6" fill="#333" text-anchor="end">0.58</text>
<line x1="471.1" y1="364.6" x2="473.1" y2="364.6" stroke="#111" stroke-width="1.3"/>
<line x1="469.6" y1="350.2" x2="473.1" y2="350.2" stroke="#111" stroke-width="1.5"/>
<text x="467.4" y="352.9" font-size="7.6" fill="#333" text-anchor="end">0.59</text>
<line x1="471.1" y1="335.8" x2="473.1" y2="335.8" stroke="#111" stroke-width="1.3"/>
<line x1="469.6" y1="321.4" x2="473.1" y2="321.4" stroke="#111" stroke-width="1.5"/>
<text x="467.4" y="324.1" font-size="7.6" fill="#333" text-anchor="end">0.60</text>
<line x1="471.1" y1="307.1" x2="473.1" y2="307.1" stroke="#111" stroke-width="1.3"/>
<line x1="469.6" y1="292.7" x2="473.1" y2="292.7" stroke="#111" stroke-width="1.5"/>
<text x="467.4" y="295.4" font-size="7.6" fill="#333" text-anchor="end">0.61</text>
<line x1="671.9" y1="420.2" x2="675.4" y2="420.2" stroke="#34427e" stroke-width="1.5"/>
<text x="676.8" y="422.9" font-size="7.6" fill="#48558c">0.02</text>
<line x1="671.9" y1="381.0" x2="675.4" y2="381.0" stroke="#34427e" stroke-width="1.5"/>
<text x="676.8" y="383.7" font-size="7.6" fill="#48558c">0.04</text>
<line x1="671.9" y1="341.8" x2="675.4" y2="341.8" stroke="#34427e" stroke-width="1.5"/>
<text x="676.8" y="344.5" font-size="7.6" fill="#48558c">0.06</text>
<line x1="671.9" y1="302.6" x2="675.4" y2="302.6" stroke="#34427e" stroke-width="1.5"/>
<text x="676.8" y="305.3" font-size="7.6" fill="#48558c">0.08</text>
<line x1="671.9" y1="439.8" x2="673.9" y2="439.8" stroke="#34427e" stroke-width="1.3"/>
<line x1="671.9" y1="400.6" x2="673.9" y2="400.6" stroke="#34427e" stroke-width="1.3"/>
<line x1="671.9" y1="361.4" x2="673.9" y2="361.4" stroke="#34427e" stroke-width="1.3"/>
<line x1="671.9" y1="322.2" x2="673.9" y2="322.2" stroke="#34427e" stroke-width="1.3"/>
<line x1="473.1" y1="450.6" x2="473.1" y2="453.90000000000003" stroke="#111" stroke-width="1.5"/>
<line x1="473.1" y1="292.8" x2="473.1" y2="296.1" stroke="#111" stroke-width="1.5"/>
<text x="473.1" y="461.9" font-size="7.8" fill="#333" text-anchor="middle">0</text>
<line x1="498.0" y1="450.6" x2="498.0" y2="452.8" stroke="#111" stroke-width="1.5"/>
<line x1="498.0" y1="292.8" x2="498.0" y2="295.0" stroke="#111" stroke-width="1.5"/>
<line x1="522.8" y1="450.6" x2="522.8" y2="453.90000000000003" stroke="#111" stroke-width="1.5"/>
<line x1="522.8" y1="292.8" x2="522.8" y2="296.1" stroke="#111" stroke-width="1.5"/>
<text x="522.8" y="461.9" font-size="7.8" fill="#333" text-anchor="middle">3</text>
<line x1="547.7" y1="450.6" x2="547.7" y2="452.8" stroke="#111" stroke-width="1.5"/>
<line x1="547.7" y1="292.8" x2="547.7" y2="295.0" stroke="#111" stroke-width="1.5"/>
<line x1="572.5" y1="450.6" x2="572.5" y2="453.90000000000003" stroke="#111" stroke-width="1.5"/>
<line x1="572.5" y1="292.8" x2="572.5" y2="296.1" stroke="#111" stroke-width="1.5"/>
<text x="572.5" y="461.9" font-size="7.8" fill="#333" text-anchor="middle">6</text>
<line x1="597.4" y1="450.6" x2="597.4" y2="452.8" stroke="#111" stroke-width="1.5"/>
<line x1="597.4" y1="292.8" x2="597.4" y2="295.0" stroke="#111" stroke-width="1.5"/>
<line x1="622.2" y1="450.6" x2="622.2" y2="453.90000000000003" stroke="#111" stroke-width="1.5"/>
<line x1="622.2" y1="292.8" x2="622.2" y2="296.1" stroke="#111" stroke-width="1.5"/>
<text x="622.2" y="461.9" font-size="7.8" fill="#333" text-anchor="middle">9</text>
<line x1="647.1" y1="450.6" x2="647.1" y2="452.8" stroke="#111" stroke-width="1.5"/>
<line x1="647.1" y1="292.8" x2="647.1" y2="295.0" stroke="#111" stroke-width="1.5"/>
<line x1="671.9" y1="450.6" x2="671.9" y2="453.90000000000003" stroke="#111" stroke-width="1.5"/>
<line x1="671.9" y1="292.8" x2="671.9" y2="296.1" stroke="#111" stroke-width="1.5"/>
<text x="671.9" y="461.9" font-size="7.8" fill="#333" text-anchor="middle">12</text>
<text x="572.3" y="475.3" font-size="9.6" fill="#111" text-anchor="middle" textLength="73.8" lengthAdjust="spacingAndGlyphs">Training Images</text>
<text transform="translate(447.3,376) rotate(-90)" font-size="9.6" fill="#111" text-anchor="middle" textLength="89.5" lengthAdjust="spacingAndGlyphs">Adjusted Rand Index</text>
<text transform="translate(701.8,374.9) rotate(-90)" font-size="9.6" fill="#111" text-anchor="middle" textLength="78.7" lengthAdjust="spacingAndGlyphs">Standard Deviation</text>
<rect x="236" y="481.8" width="471" height="1.2" fill="#b5b5b5"/>
</svg></body></html>
